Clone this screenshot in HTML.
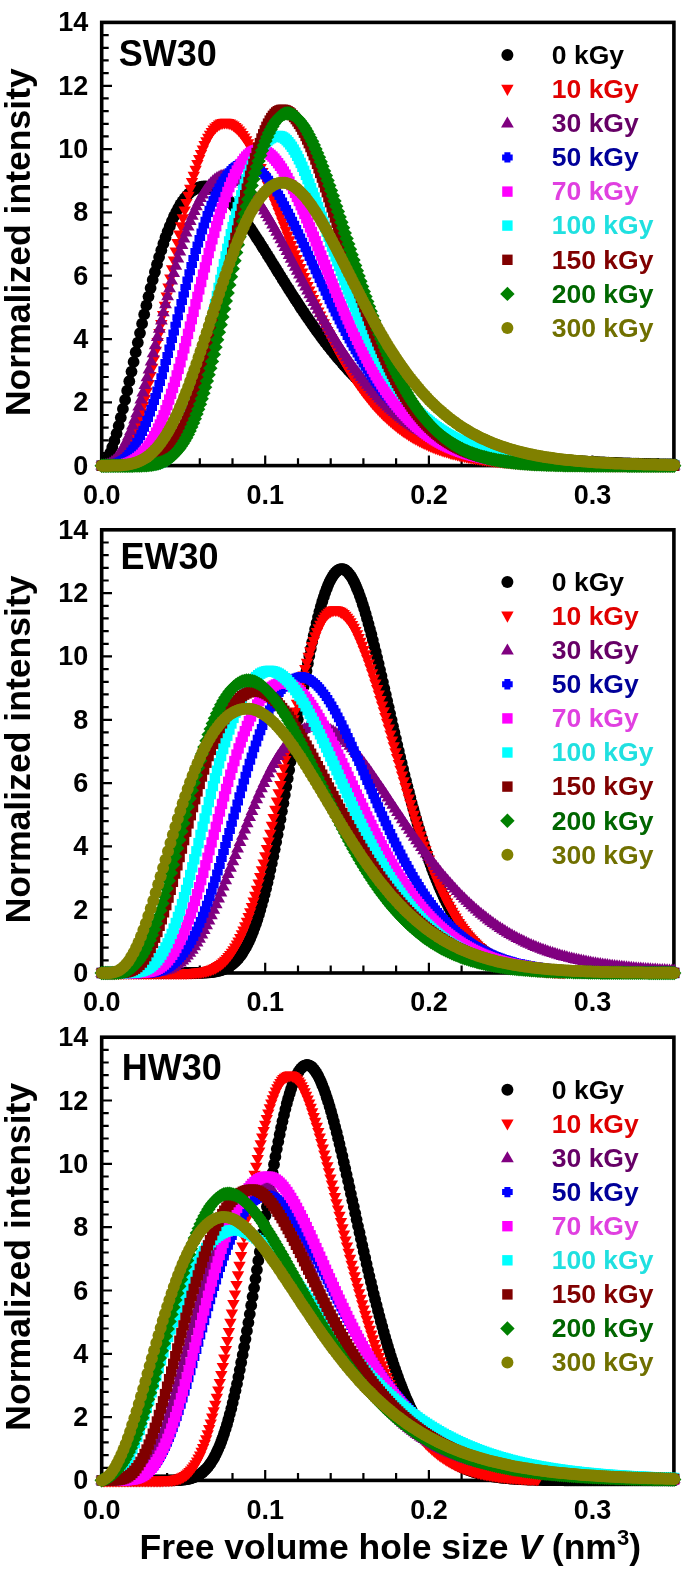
<!DOCTYPE html>
<html><head><meta charset="utf-8"><style>
html,body{margin:0;padding:0;background:#fff;}
svg{display:block;filter:blur(0.4px);}
text{font-family:"Liberation Sans",sans-serif;font-weight:bold;}
.tl{font-size:27px;fill:#000;}
.lg{font-size:26.5px;}
.big{font-size:35.5px;fill:#000;}
.pl{font-size:36px;fill:#000;}
.yl{font-size:35.6px;fill:#000;}
</style></head><body>
<svg width="685" height="1571" viewBox="0 0 685 1571">
<defs>
<marker id="mk" markerUnits="userSpaceOnUse" markerWidth="14" markerHeight="14" refX="7" refY="7" overflow="visible"><circle cx="7" cy="7" r="5.9" fill="#000"/></marker>
<marker id="mr" markerUnits="userSpaceOnUse" markerWidth="14" markerHeight="14" refX="7" refY="7" overflow="visible"><path d="M0.8 3.3H13.2L7 14z" fill="#f00"/></marker>
<marker id="mpu" markerUnits="userSpaceOnUse" markerWidth="14" markerHeight="14" refX="7" refY="7" overflow="visible"><path d="M0.6 10.9H13.4L7 0z" fill="#800080"/></marker>
<marker id="mb" markerUnits="userSpaceOnUse" markerWidth="14" markerHeight="14" refX="7" refY="7" overflow="visible"><path d="M4 1.8H10V4H12.3V10H10V12.2H4V10H1.7V4H4z" fill="#00f"/></marker>
<marker id="mm" markerUnits="userSpaceOnUse" markerWidth="14" markerHeight="14" refX="7" refY="7" overflow="visible"><rect x="1.8" y="1.8" width="10.4" height="10.4" fill="#f0f"/></marker>
<marker id="mc" markerUnits="userSpaceOnUse" markerWidth="14" markerHeight="14" refX="7" refY="7" overflow="visible"><rect x="1.8" y="1.8" width="10.4" height="10.4" fill="#0ff"/></marker>
<marker id="mdr" markerUnits="userSpaceOnUse" markerWidth="14" markerHeight="14" refX="7" refY="7" overflow="visible"><rect x="1.8" y="1.8" width="10.4" height="10.4" fill="#800000"/></marker>
<marker id="mg" markerUnits="userSpaceOnUse" markerWidth="14" markerHeight="14" refX="7" refY="7" overflow="visible"><path d="M7 -0.2L14.2 7L7 14.2L-0.2 7z" fill="#008000"/></marker>
<marker id="mo" markerUnits="userSpaceOnUse" markerWidth="14" markerHeight="14" refX="7" refY="7" overflow="visible"><circle cx="7" cy="7" r="6.0" fill="#808000"/></marker>
<g id="sk"><circle r="6" fill="#000"/></g>
<g id="sr"><path d="M-6.2 -4.5H6.2L0 6.7z" fill="#f00"/></g>
<g id="spu"><path d="M-6.4 4.2H6.4L0 -6.7z" fill="#800080"/></g>
<g id="sb"><path d="M-3 -5.2H3V-3H5.3V3H3V5.2H-3V3H-5.3V-3H-3z" fill="#00f"/></g>
<g id="sm"><rect x="-5.2" y="-5.2" width="10.4" height="10.4" fill="#f0f"/></g>
<g id="sc"><rect x="-5.2" y="-5.2" width="10.4" height="10.4" fill="#0ff"/></g>
<g id="sdr"><rect x="-5.2" y="-5.2" width="10.4" height="10.4" fill="#800000"/></g>
<g id="sg"><path d="M0 -7.2L7.2 0L0 7.2L-7.2 0z" fill="#008000"/></g>
<g id="so"><circle r="6" fill="#808000"/></g>
</defs>
<rect width="685" height="1571" fill="#fff"/>
<rect x="101.7" y="22.4" width="572.2" height="443.2" fill="none" stroke="#000" stroke-width="3.6"/>
<path d="M101.7 465.7h10.3M101.7 453.0h7.0M101.7 440.4h7.0M101.7 427.7h7.0M101.7 415.0h7.0M101.7 402.4h10.3M101.7 389.7h7.0M101.7 377.0h7.0M101.7 364.4h7.0M101.7 351.7h7.0M101.7 339.1h10.3M101.7 326.4h7.0M101.7 313.7h7.0M101.7 301.1h7.0M101.7 288.4h7.0M101.7 275.7h10.3M101.7 263.1h7.0M101.7 250.4h7.0M101.7 237.7h7.0M101.7 225.1h7.0M101.7 212.4h10.3M101.7 199.7h7.0M101.7 187.1h7.0M101.7 174.4h7.0M101.7 161.8h7.0M101.7 149.1h10.3M101.7 136.4h7.0M101.7 123.8h7.0M101.7 111.1h7.0M101.7 98.4h7.0M101.7 85.8h10.3M101.7 73.1h7.0M101.7 60.4h7.0M101.7 47.8h7.0M101.7 35.1h7.0M101.7 22.4h10.3M101.7 465.7v-10.3M134.4 465.7v-7.5M167.1 465.7v-7.5M199.8 465.7v-7.5M232.5 465.7v-7.5M265.2 465.7v-10.3M298.0 465.7v-7.5M330.7 465.7v-7.5M363.4 465.7v-7.5M396.1 465.7v-7.5M428.9 465.7v-10.3M461.6 465.7v-7.5M494.3 465.7v-7.5M527.0 465.7v-7.5M559.7 465.7v-7.5M592.4 465.7v-10.3M625.2 465.7v-7.5M657.9 465.7v-7.5" stroke="#000" stroke-width="2.2" fill="none"/>
<text class="tl" x="88.3" y="474.7" text-anchor="end">0</text>
<text class="tl" x="88.3" y="411.4" text-anchor="end">2</text>
<text class="tl" x="88.3" y="348.1" text-anchor="end">4</text>
<text class="tl" x="88.3" y="284.7" text-anchor="end">6</text>
<text class="tl" x="88.3" y="221.4" text-anchor="end">8</text>
<text class="tl" x="88.3" y="158.1" text-anchor="end">10</text>
<text class="tl" x="88.3" y="94.8" text-anchor="end">12</text>
<text class="tl" x="88.3" y="31.4" text-anchor="end">14</text>
<text class="tl" x="101.7" y="503.9" text-anchor="middle">0.0</text>
<text class="tl" x="265.2" y="503.9" text-anchor="middle">0.1</text>
<text class="tl" x="428.9" y="503.9" text-anchor="middle">0.2</text>
<text class="tl" x="592.5" y="503.9" text-anchor="middle">0.3</text>
<text class="pl" x="118.7" y="65.8">SW30</text>
<text class="yl" transform="translate(30.3 242.1) rotate(-90)" text-anchor="middle">Normalized intensity</text>
<polyline points="101.7,465.7 103.8,464.1 105.9,461.3 108.0,457.5 110.2,452.8 112.3,447.1 114.4,440.7 116.6,433.6 118.7,425.8 120.8,417.6 122.9,408.9 125.1,399.9 127.2,390.7 129.3,381.2 131.5,371.6 133.6,361.9 135.7,352.2 137.8,342.6 140.0,333.1 142.1,323.7 144.2,314.4 146.4,305.4 148.5,296.6 150.6,288.1 152.7,279.9 154.9,272.0 157.0,264.4 159.1,257.1 161.3,250.2 163.4,243.7 165.5,237.5 167.6,231.7 169.8,226.2 171.9,221.2 174.0,216.4 176.2,212.1 178.3,208.1 180.4,204.5 182.5,201.3 184.7,198.4 186.8,195.8 188.9,193.6 191.1,191.7 193.2,190.1 195.3,188.8 197.4,187.8 199.6,187.1 201.7,186.6 203.8,186.5 206.0,186.5 208.1,186.8 210.2,187.4 212.3,188.2 214.5,189.2 216.6,190.3 218.7,191.7 220.9,193.3 223.0,195.0 225.1,196.9 227.2,198.9 229.4,201.1 231.5,203.4 233.6,205.8 235.8,208.4 237.9,211.0 240.0,213.8 242.1,216.6 244.3,219.5 246.4,222.5 248.5,225.6 250.7,228.7 252.8,231.9 254.9,235.1 257.0,238.4 259.2,241.7 261.3,245.1 263.4,248.4 265.6,251.8 267.7,255.3 269.8,258.7 271.9,262.1 274.1,265.6 276.2,269.0 278.3,272.4 280.5,275.9 282.6,279.3 284.7,282.7 286.8,286.1 289.0,289.5 291.1,292.8 293.2,296.1 295.4,299.5 297.5,302.7 299.6,306.0 301.7,309.2 303.9,312.4 306.0,315.6 308.1,318.7 310.3,321.8 312.4,324.8 314.5,327.8 316.6,330.8 318.8,333.7 320.9,336.6 323.0,339.4 325.2,342.3 327.3,345.0 329.4,347.7 331.5,350.4 333.7,353.0 335.8,355.6 337.9,358.2 340.1,360.7 342.2,363.1 344.3,365.6 346.4,367.9 348.6,370.3 350.7,372.6 352.8,374.8 355.0,377.0 357.1,379.1 359.2,381.3 361.3,383.3 363.5,385.4 365.6,387.4 367.7,389.3 369.9,391.2 372.0,393.1 374.1,394.9 376.2,396.7 378.4,398.5 380.5,400.2 382.6,401.8 384.8,403.5 386.9,405.1 389.0,406.6 391.1,408.2 393.3,409.7 395.4,411.1 397.5,412.6 399.7,414.0 401.8,415.3 403.9,416.7 406.0,418.0 408.2,419.2 410.3,420.5 412.4,421.7 414.6,422.8 416.7,424.0 418.8,425.1 420.9,426.2 423.1,427.3 425.2,428.3 427.3,429.3 429.5,430.3 431.6,431.3 433.7,432.2 435.8,433.2 438.0,434.1 440.1,434.9 442.2,435.8 444.4,436.6 446.5,437.4 448.6,438.2 450.7,439.0 452.9,439.7 455.0,440.4 457.1,441.1 459.3,441.8 461.4,442.5 463.5,443.1 465.6,443.8 467.8,444.4 469.9,445.0 472.0,445.6 474.2,446.2 476.3,446.7 478.4,447.2 480.5,447.8 482.7,448.3 484.8,448.8 486.9,449.3 489.1,449.7 491.2,450.2 493.3,450.6 495.4,451.1 497.6,451.5 499.7,451.9 501.8,452.3 504.0,452.7 506.1,453.1 508.2,453.4 510.3,453.8 512.5,454.1 514.6,454.5 516.7,454.8 518.9,455.1 521.0,455.4 523.1,455.7 525.2,456.0 527.4,456.3 529.5,456.6 531.6,456.8 533.8,457.1 535.9,457.3 538.0,457.6 540.1,457.8 542.3,458.1 544.4,458.3 546.5,458.5 548.7,458.7 550.8,458.9 552.9,459.1 555.0,459.3 557.2,459.5 559.3,459.7 561.4,459.9 563.6,460.0 565.7,460.2 567.8,460.4 569.9,460.5 572.1,460.7 574.2,460.8 576.3,461.0 578.5,461.1 580.6,461.2 582.7,461.4 584.8,461.5 587.0,461.6 589.1,461.8 591.2,461.9 593.4,462.0 595.5,462.1 597.6,462.2 599.7,462.3 601.9,462.4 604.0,462.5 606.1,462.6 608.3,462.7 610.4,462.8 612.5,462.9 614.6,463.0 616.8,463.0 618.9,463.1 621.0,463.2 623.2,463.3 625.3,463.3 627.4,463.4 629.5,463.5 631.7,463.6 633.8,463.6 635.9,463.7 638.1,463.7 640.2,463.8 642.3,463.9 644.4,463.9 646.6,464.0 648.7,464.0 650.8,464.1 653.0,464.1 655.1,464.2 657.2,464.2 659.3,464.3 661.5,464.3 663.6,464.3 665.7,464.4 667.9,464.4 670.0,464.5 672.1,464.5 674.2,464.5" fill="none" stroke="none" marker-start="url(#mk)" marker-mid="url(#mk)" marker-end="url(#mk)"/>
<polyline points="101.7,465.7 103.5,465.7 105.3,465.6 107.1,465.5 108.9,465.3 110.7,464.9 112.5,464.4 114.3,463.7 116.1,462.7 117.9,461.5 119.7,460.0 121.5,458.1 123.3,456.0 125.1,453.4 126.9,450.5 128.7,447.1 130.6,443.3 132.4,439.2 134.2,434.6 136.0,429.6 137.8,424.1 139.6,418.3 141.4,412.1 143.2,405.5 145.0,398.5 146.8,391.2 148.6,383.6 150.4,375.7 152.2,367.5 154.0,359.1 155.8,350.5 157.6,341.7 159.5,332.8 161.3,323.8 163.1,314.7 164.9,305.5 166.7,296.3 168.5,287.2 170.3,278.1 172.1,269.0 173.9,260.1 175.7,251.3 177.5,242.7 179.3,234.2 181.1,225.9 182.9,217.9 184.7,210.1 186.5,202.6 188.4,195.4 190.2,188.4 192.0,181.8 193.8,175.5 195.6,169.5 197.4,163.8 199.2,158.6 201.0,153.6 202.8,149.1 204.6,144.8 206.4,141.0 208.2,137.5 210.0,134.4 211.8,131.7 213.6,129.3 215.4,127.3 217.3,125.6 219.1,124.3 220.9,123.3 222.7,122.7 224.5,122.4 226.3,122.4 228.1,122.7 229.9,123.3 231.7,124.1 233.5,125.3 235.3,126.7 237.1,128.3 238.9,130.2 240.7,132.3 242.5,134.7 244.3,137.2 246.2,140.0 248.0,142.9 249.8,146.0 251.6,149.3 253.4,152.7 255.2,156.3 257.0,160.0 258.8,163.8 260.6,167.8 262.4,171.8 264.2,176.0 266.0,180.2 267.8,184.6 269.6,189.0 271.4,193.4 273.2,198.0 275.1,202.5 276.9,207.1 278.7,211.8 280.5,216.4 282.3,221.1 284.1,225.8 285.9,230.5 287.7,235.3 289.5,240.0 291.3,244.6 293.1,249.3 294.9,254.0 296.7,258.6 298.5,263.2 300.3,267.8 302.2,272.3 304.0,276.8 305.8,281.3 307.6,285.7 309.4,290.1 311.2,294.4 313.0,298.7 314.8,302.9 316.6,307.0 318.4,311.1 320.2,315.1 322.0,319.1 323.8,323.0 325.6,326.8 327.4,330.6 329.2,334.3 331.1,337.9 332.9,341.5 334.7,345.0 336.5,348.4 338.3,351.8 340.1,355.1 341.9,358.3 343.7,361.4 345.5,364.5 347.3,367.5 349.1,370.5 350.9,373.4 352.7,376.2 354.5,378.9 356.3,381.6 358.1,384.2 360.0,386.8 361.8,389.2 363.6,391.7 365.4,394.0 367.2,396.3 369.0,398.6 370.8,400.7 372.6,402.9 374.4,404.9 376.2,406.9 378.0,408.9 379.8,410.8 381.6,412.6 383.4,414.4 385.2,416.1 387.0,417.8 388.9,419.4 390.7,421.0 392.5,422.6 394.3,424.1 396.1,425.5 397.9,426.9 399.7,428.3 401.5,429.6 403.3,430.9 405.1,432.1 406.9,433.3 408.7,434.4 410.5,435.6 412.3,436.7 414.1,437.7 415.9,438.7 417.8,439.7 419.6,440.7 421.4,441.6 423.2,442.5 425.0,443.3 426.8,444.1 428.6,445.0 430.4,445.7 432.2,446.5 434.0,447.2 435.8,447.9 437.6,448.6 439.4,449.2 441.2,449.8 443.0,450.4 444.8,451.0 446.7,451.6 448.5,452.1 450.3,452.7 452.1,453.2 453.9,453.6 455.7,454.1 457.5,454.6 459.3,455.0 461.1,455.4 462.9,455.8 464.7,456.2 466.5,456.6 468.3,456.9 470.1,457.3 471.9,457.6 473.7,457.9 475.6,458.2 477.4,458.5 479.2,458.8 481.0,459.1 482.8,459.4 484.6,459.6 486.4,459.9 488.2,460.1 490.0,460.3 491.8,460.6 493.6,460.8 495.4,461.0 497.2,461.2 499.0,461.3 500.8,461.5 502.7,461.7 504.5,461.9 506.3,462.0 508.1,462.2 509.9,462.3 511.7,462.5 513.5,462.6 515.3,462.7 517.1,462.8 518.9,463.0 520.7,463.1 522.5,463.2 524.3,463.3 526.1,463.4 527.9,463.5 529.7,463.6 531.6,463.7 533.4,463.8 535.2,463.8 537.0,463.9 538.8,464.0 540.6,464.1 542.4,464.1 544.2,464.2 546.0,464.3 547.8,464.3 549.6,464.4 551.4,464.4 553.2,464.5 555.0,464.5 556.8,464.6 558.6,464.6 560.5,464.7 562.3,464.7 564.1,464.8 565.9,464.8 567.7,464.8 569.5,464.9 571.3,464.9 573.1,465.0 574.9,465.0 576.7,465.0 578.5,465.0 580.3,465.1 582.1,465.1 583.9,465.1 585.7,465.2 587.5,465.2 589.4,465.2 591.2,465.2 593.0,465.2 594.8,465.3 596.6,465.3 598.4,465.3 600.2,465.3 602.0,465.3 603.8,465.3 605.6,465.4 607.4,465.4 609.2,465.4 611.0,465.4 612.8,465.4 614.6,465.4 616.4,465.4 618.3,465.5 620.1,465.5 621.9,465.5 623.7,465.5 625.5,465.5 627.3,465.5 629.1,465.5 630.9,465.5 632.7,465.5 634.5,465.5 636.3,465.5 638.1,465.5 639.9,465.6 641.7,465.6 643.5,465.6 645.3,465.6 647.2,465.6 649.0,465.6 650.8,465.6 652.6,465.6 654.4,465.6 656.2,465.6 658.0,465.6 659.8,465.6 661.6,465.6 663.4,465.6 665.2,465.6 667.0,465.6 668.8,465.6 670.6,465.6 672.4,465.6 674.2,465.6" fill="none" stroke="none" marker-start="url(#mr)" marker-mid="url(#mr)" marker-end="url(#mr)"/>
<polyline points="101.7,465.7 103.7,465.5 105.8,465.1 107.8,464.4 109.9,463.4 111.9,462.1 114.0,460.4 116.1,458.2 118.1,455.7 120.2,452.7 122.2,449.3 124.3,445.4 126.4,441.1 128.4,436.3 130.5,431.2 132.5,425.6 134.6,419.6 136.7,413.3 138.7,406.7 140.8,399.7 142.8,392.5 144.9,385.1 147.0,377.4 149.0,369.5 151.1,361.5 153.1,353.4 155.2,345.3 157.3,337.0 159.3,328.8 161.4,320.6 163.4,312.4 165.5,304.3 167.6,296.3 169.6,288.4 171.7,280.7 173.7,273.1 175.8,265.8 177.9,258.6 179.9,251.7 182.0,245.0 184.0,238.6 186.1,232.5 188.2,226.7 190.2,221.1 192.3,215.9 194.3,211.0 196.4,206.4 198.5,202.1 200.5,198.1 202.6,194.5 204.6,191.2 206.7,188.2 208.8,185.5 210.8,183.2 212.9,181.2 214.9,179.5 217.0,178.1 219.1,177.0 221.1,176.1 223.2,175.6 225.2,175.4 227.3,175.4 229.4,175.7 231.4,176.2 233.5,177.0 235.5,178.0 237.6,179.2 239.7,180.6 241.7,182.2 243.8,184.0 245.8,186.0 247.9,188.2 249.9,190.5 252.0,193.0 254.1,195.6 256.1,198.4 258.2,201.3 260.2,204.3 262.3,207.4 264.4,210.7 266.4,214.0 268.5,217.4 270.5,220.9 272.6,224.5 274.7,228.1 276.7,231.9 278.8,235.6 280.8,239.4 282.9,243.3 285.0,247.1 287.0,251.0 289.1,255.0 291.1,258.9 293.2,262.9 295.3,266.8 297.3,270.8 299.4,274.7 301.4,278.7 303.5,282.6 305.6,286.6 307.6,290.5 309.7,294.3 311.7,298.2 313.8,302.0 315.9,305.8 317.9,309.5 320.0,313.3 322.0,316.9 324.1,320.6 326.2,324.1 328.2,327.7 330.3,331.2 332.3,334.6 334.4,338.0 336.5,341.4 338.5,344.7 340.6,347.9 342.6,351.1 344.7,354.2 346.8,357.3 348.8,360.3 350.9,363.2 352.9,366.1 355.0,369.0 357.1,371.7 359.1,374.5 361.2,377.1 363.2,379.7 365.3,382.3 367.4,384.8 369.4,387.2 371.5,389.6 373.5,391.9 375.6,394.2 377.7,396.4 379.7,398.6 381.8,400.7 383.8,402.7 385.9,404.7 387.9,406.7 390.0,408.6 392.1,410.4 394.1,412.2 396.2,413.9 398.2,415.6 400.3,417.3 402.4,418.9 404.4,420.5 406.5,422.0 408.5,423.5 410.6,424.9 412.7,426.3 414.7,427.6 416.8,428.9 418.8,430.2 420.9,431.4 423.0,432.6 425.0,433.8 427.1,434.9 429.1,436.0 431.2,437.1 433.3,438.1 435.3,439.1 437.4,440.0 439.4,440.9 441.5,441.8 443.6,442.7 445.6,443.5 447.7,444.4 449.7,445.1 451.8,445.9 453.9,446.6 455.9,447.3 458.0,448.0 460.0,448.7 462.1,449.3 464.2,449.9 466.2,450.5 468.3,451.1 470.3,451.7 472.4,452.2 474.5,452.7 476.5,453.2 478.6,453.7 480.6,454.1 482.7,454.6 484.8,455.0 486.8,455.4 488.9,455.8 490.9,456.2 493.0,456.6 495.1,457.0 497.1,457.3 499.2,457.6 501.2,457.9 503.3,458.3 505.4,458.6 507.4,458.8 509.5,459.1 511.5,459.4 513.6,459.6 515.7,459.9 517.7,460.1 519.8,460.3 521.8,460.6 523.9,460.8 526.0,461.0 528.0,461.2 530.1,461.3 532.1,461.5 534.2,461.7 536.2,461.9 538.3,462.0 540.4,462.2 542.4,462.3 544.5,462.5 546.5,462.6 548.6,462.7 550.7,462.8 552.7,463.0 554.8,463.1 556.8,463.2 558.9,463.3 561.0,463.4 563.0,463.5 565.1,463.6 567.1,463.7 569.2,463.8 571.3,463.8 573.3,463.9 575.4,464.0 577.4,464.1 579.5,464.1 581.6,464.2 583.6,464.3 585.7,464.3 587.7,464.4 589.8,464.4 591.9,464.5 593.9,464.5 596.0,464.6 598.0,464.6 600.1,464.7 602.2,464.7 604.2,464.8 606.3,464.8 608.3,464.9 610.4,464.9 612.5,464.9 614.5,465.0 616.6,465.0 618.6,465.0 620.7,465.1 622.8,465.1 624.8,465.1 626.9,465.1 628.9,465.2 631.0,465.2 633.1,465.2 635.1,465.2 637.2,465.2 639.2,465.3 641.3,465.3 643.4,465.3 645.4,465.3 647.5,465.3 649.5,465.4 651.6,465.4 653.7,465.4 655.7,465.4 657.8,465.4 659.8,465.4 661.9,465.4 664.0,465.4 666.0,465.5 668.1,465.5 670.1,465.5 672.2,465.5 674.2,465.5" fill="none" stroke="none" marker-start="url(#mpu)" marker-mid="url(#mpu)" marker-end="url(#mpu)"/>
<polyline points="101.7,465.7 103.7,465.6 105.7,465.6 107.7,465.4 109.7,465.1 111.7,464.8 113.7,464.3 115.7,463.6 117.7,462.8 119.7,461.8 121.7,460.6 123.7,459.1 125.7,457.4 127.7,455.4 129.7,453.1 131.7,450.5 133.7,447.7 135.7,444.5 137.7,441.0 139.7,437.2 141.7,433.1 143.7,428.7 145.7,423.9 147.7,418.9 149.7,413.6 151.7,408.0 153.7,402.1 155.7,396.0 157.7,389.6 159.7,383.0 161.7,376.2 163.7,369.3 165.7,362.1 167.7,354.9 169.7,347.5 171.7,340.0 173.7,332.4 175.7,324.8 177.7,317.2 179.7,309.6 181.7,302.0 183.7,294.4 185.7,286.9 187.7,279.5 189.7,272.2 191.7,265.0 193.7,258.0 195.7,251.1 197.8,244.4 199.8,237.9 201.8,231.6 203.8,225.5 205.8,219.7 207.8,214.1 209.8,208.8 211.8,203.8 213.8,199.0 215.8,194.5 217.8,190.3 219.8,186.4 221.8,182.8 223.8,179.5 225.8,176.5 227.8,173.8 229.8,171.4 231.8,169.3 233.8,167.6 235.8,166.1 237.8,164.9 239.8,164.0 241.8,163.4 243.8,163.1 245.8,163.0 247.8,163.3 249.8,163.7 251.8,164.5 253.8,165.5 255.8,166.7 257.8,168.2 259.8,169.9 261.8,171.8 263.8,173.9 265.8,176.2 267.8,178.7 269.8,181.3 271.8,184.2 273.8,187.2 275.8,190.3 277.8,193.6 279.8,197.0 281.8,200.5 283.8,204.2 285.8,207.9 287.8,211.8 289.8,215.7 291.8,219.7 293.9,223.8 295.9,228.0 297.9,232.2 299.9,236.4 301.9,240.7 303.9,245.0 305.9,249.3 307.9,253.7 309.9,258.1 311.9,262.4 313.9,266.8 315.9,271.2 317.9,275.5 319.9,279.9 321.9,284.2 323.9,288.5 325.9,292.8 327.9,297.0 329.9,301.2 331.9,305.4 333.9,309.5 335.9,313.6 337.9,317.6 339.9,321.6 341.9,325.5 343.9,329.3 345.9,333.1 347.9,336.9 349.9,340.6 351.9,344.2 353.9,347.7 355.9,351.2 357.9,354.6 359.9,358.0 361.9,361.3 363.9,364.5 365.9,367.7 367.9,370.7 369.9,373.8 371.9,376.7 373.9,379.6 375.9,382.4 377.9,385.1 379.9,387.8 381.9,390.4 383.9,392.9 385.9,395.4 387.9,397.8 390.0,400.2 392.0,402.4 394.0,404.7 396.0,406.8 398.0,408.9 400.0,410.9 402.0,412.9 404.0,414.8 406.0,416.7 408.0,418.5 410.0,420.2 412.0,421.9 414.0,423.5 416.0,425.1 418.0,426.7 420.0,428.1 422.0,429.6 424.0,431.0 426.0,432.3 428.0,433.6 430.0,434.9 432.0,436.1 434.0,437.2 436.0,438.4 438.0,439.5 440.0,440.5 442.0,441.5 444.0,442.5 446.0,443.5 448.0,444.4 450.0,445.2 452.0,446.1 454.0,446.9 456.0,447.7 458.0,448.4 460.0,449.2 462.0,449.8 464.0,450.5 466.0,451.2 468.0,451.8 470.0,452.4 472.0,452.9 474.0,453.5 476.0,454.0 478.0,454.5 480.0,455.0 482.0,455.5 484.1,455.9 486.1,456.4 488.1,456.8 490.1,457.2 492.1,457.5 494.1,457.9 496.1,458.3 498.1,458.6 500.1,458.9 502.1,459.2 504.1,459.5 506.1,459.8 508.1,460.1 510.1,460.3 512.1,460.6 514.1,460.8 516.1,461.0 518.1,461.2 520.1,461.5 522.1,461.6 524.1,461.8 526.1,462.0 528.1,462.2 530.1,462.4 532.1,462.5 534.1,462.7 536.1,462.8 538.1,462.9 540.1,463.1 542.1,463.2 544.1,463.3 546.1,463.4 548.1,463.5 550.1,463.6 552.1,463.7 554.1,463.8 556.1,463.9 558.1,464.0 560.1,464.1 562.1,464.2 564.1,464.2 566.1,464.3 568.1,464.4 570.1,464.5 572.1,464.5 574.1,464.6 576.1,464.6 578.1,464.7 580.2,464.7 582.2,464.8 584.2,464.8 586.2,464.9 588.2,464.9 590.2,464.9 592.2,465.0 594.2,465.0 596.2,465.1 598.2,465.1 600.2,465.1 602.2,465.1 604.2,465.2 606.2,465.2 608.2,465.2 610.2,465.2 612.2,465.3 614.2,465.3 616.2,465.3 618.2,465.3 620.2,465.4 622.2,465.4 624.2,465.4 626.2,465.4 628.2,465.4 630.2,465.4 632.2,465.4 634.2,465.5 636.2,465.5 638.2,465.5 640.2,465.5 642.2,465.5 644.2,465.5 646.2,465.5 648.2,465.5 650.2,465.5 652.2,465.5 654.2,465.6 656.2,465.6 658.2,465.6 660.2,465.6 662.2,465.6 664.2,465.6 666.2,465.6 668.2,465.6 670.2,465.6 672.2,465.6 674.2,465.6" fill="none" stroke="none" marker-start="url(#mb)" marker-mid="url(#mb)" marker-end="url(#mb)"/>
<polyline points="101.7,465.7 103.5,465.7 105.4,465.7 107.3,465.7 109.2,465.6 111.0,465.6 112.9,465.5 114.8,465.4 116.7,465.3 118.5,465.1 120.4,464.9 122.3,464.6 124.2,464.2 126.1,463.7 127.9,463.1 129.8,462.4 131.7,461.5 133.6,460.5 135.4,459.4 137.3,458.0 139.2,456.5 141.1,454.8 143.0,452.8 144.8,450.7 146.7,448.3 148.6,445.7 150.5,442.8 152.3,439.6 154.2,436.2 156.1,432.6 158.0,428.6 159.8,424.5 161.7,420.0 163.6,415.3 165.5,410.3 167.4,405.1 169.2,399.6 171.1,393.9 173.0,387.9 174.9,381.8 176.7,375.4 178.6,368.9 180.5,362.2 182.4,355.3 184.3,348.3 186.1,341.2 188.0,333.9 189.9,326.6 191.8,319.2 193.6,311.8 195.5,304.3 197.4,296.9 199.3,289.4 201.2,282.0 203.0,274.6 204.9,267.4 206.8,260.2 208.7,253.1 210.5,246.1 212.4,239.3 214.3,232.7 216.2,226.2 218.0,219.9 219.9,213.9 221.8,208.0 223.7,202.4 225.6,197.1 227.4,192.0 229.3,187.1 231.2,182.6 233.1,178.3 234.9,174.3 236.8,170.6 238.7,167.2 240.6,164.1 242.5,161.3 244.3,158.8 246.2,156.6 248.1,154.7 250.0,153.1 251.8,151.9 253.7,150.9 255.6,150.2 257.5,149.8 259.3,149.7 261.2,149.9 263.1,150.4 265.0,151.1 266.9,152.1 268.7,153.4 270.6,154.9 272.5,156.6 274.4,158.6 276.2,160.8 278.1,163.2 280.0,165.8 281.9,168.6 283.8,171.6 285.6,174.7 287.5,178.1 289.4,181.6 291.3,185.2 293.1,189.0 295.0,192.8 296.9,196.9 298.8,201.0 300.7,205.2 302.5,209.5 304.4,213.9 306.3,218.3 308.2,222.8 310.0,227.4 311.9,232.0 313.8,236.7 315.7,241.3 317.5,246.0 319.4,250.8 321.3,255.5 323.2,260.2 325.1,264.9 326.9,269.6 328.8,274.3 330.7,279.0 332.6,283.7 334.4,288.3 336.3,292.8 338.2,297.4 340.1,301.9 342.0,306.3 343.8,310.7 345.7,315.1 347.6,319.3 349.5,323.5 351.3,327.7 353.2,331.8 355.1,335.8 357.0,339.8 358.9,343.6 360.7,347.4 362.6,351.2 364.5,354.8 366.4,358.4 368.2,361.9 370.1,365.3 372.0,368.7 373.9,372.0 375.7,375.2 377.6,378.3 379.5,381.3 381.4,384.3 383.3,387.1 385.1,390.0 387.0,392.7 388.9,395.3 390.8,397.9 392.6,400.4 394.5,402.9 396.4,405.2 398.3,407.5 400.2,409.7 402.0,411.9 403.9,414.0 405.8,416.0 407.7,418.0 409.5,419.8 411.4,421.7 413.3,423.4 415.2,425.2 417.0,426.8 418.9,428.4 420.8,429.9 422.7,431.4 424.6,432.9 426.4,434.2 428.3,435.6 430.2,436.9 432.1,438.1 433.9,439.3 435.8,440.4 437.7,441.5 439.6,442.6 441.5,443.6 443.3,444.6 445.2,445.5 447.1,446.4 449.0,447.3 450.8,448.1 452.7,448.9 454.6,449.7 456.5,450.4 458.4,451.1 460.2,451.8 462.1,452.4 464.0,453.0 465.9,453.6 467.7,454.2 469.6,454.7 471.5,455.3 473.4,455.8 475.2,456.2 477.1,456.7 479.0,457.1 480.9,457.5 482.8,457.9 484.6,458.3 486.5,458.7 488.4,459.0 490.3,459.4 492.1,459.7 494.0,460.0 495.9,460.3 497.8,460.5 499.7,460.8 501.5,461.0 503.4,461.3 505.3,461.5 507.2,461.7 509.0,461.9 510.9,462.1 512.8,462.3 514.7,462.5 516.6,462.6 518.4,462.8 520.3,462.9 522.2,463.1 524.1,463.2 525.9,463.4 527.8,463.5 529.7,463.6 531.6,463.7 533.4,463.8 535.3,463.9 537.2,464.0 539.1,464.1 541.0,464.2 542.8,464.3 544.7,464.3 546.6,464.4 548.5,464.5 550.3,464.6 552.2,464.6 554.1,464.7 556.0,464.7 557.9,464.8 559.7,464.8 561.6,464.9 563.5,464.9 565.4,465.0 567.2,465.0 569.1,465.0 571.0,465.1 572.9,465.1 574.7,465.1 576.6,465.2 578.5,465.2 580.4,465.2 582.3,465.3 584.1,465.3 586.0,465.3 587.9,465.3 589.8,465.4 591.6,465.4 593.5,465.4 595.4,465.4 597.3,465.4 599.2,465.4 601.0,465.5 602.9,465.5 604.8,465.5 606.7,465.5 608.5,465.5 610.4,465.5 612.3,465.5 614.2,465.5 616.1,465.5 617.9,465.6 619.8,465.6 621.7,465.6 623.6,465.6 625.4,465.6 627.3,465.6 629.2,465.6 631.1,465.6 632.9,465.6 634.8,465.6 636.7,465.6 638.6,465.6 640.5,465.6 642.3,465.6 644.2,465.6 646.1,465.6 648.0,465.6 649.8,465.6 651.7,465.6 653.6,465.6 655.5,465.7 657.4,465.7 659.2,465.7 661.1,465.7 663.0,465.7 664.9,465.7 666.7,465.7 668.6,465.7 670.5,465.7 672.4,465.7 674.2,465.7" fill="none" stroke="none" marker-start="url(#mm)" marker-mid="url(#mm)" marker-end="url(#mm)"/>
<polyline points="101.7,465.7 103.4,465.7 105.1,465.7 106.9,465.7 108.6,465.7 110.4,465.7 112.1,465.7 113.9,465.7 115.6,465.7 117.4,465.7 119.1,465.7 120.9,465.7 122.6,465.7 124.3,465.7 126.1,465.7 127.8,465.7 129.6,465.7 131.3,465.7 133.1,465.7 134.8,465.7 136.6,465.7 138.3,465.7 140.1,465.7 141.8,465.6 143.5,465.6 145.3,465.5 147.0,465.4 148.8,465.3 150.5,465.1 152.3,464.9 154.0,464.6 155.8,464.1 157.5,463.6 159.3,462.9 161.0,462.1 162.8,461.1 164.5,459.9 166.2,458.5 168.0,456.9 169.7,455.0 171.5,452.8 173.2,450.3 175.0,447.6 176.7,444.5 178.5,441.1 180.2,437.3 182.0,433.2 183.7,428.8 185.4,424.0 187.2,418.9 188.9,413.5 190.7,407.7 192.4,401.7 194.2,395.3 195.9,388.7 197.7,381.8 199.4,374.7 201.2,367.4 202.9,359.9 204.6,352.2 206.4,344.4 208.1,336.5 209.9,328.5 211.6,320.4 213.4,312.3 215.1,304.2 216.9,296.0 218.6,287.9 220.4,279.9 222.1,272.0 223.9,264.1 225.6,256.4 227.3,248.8 229.1,241.4 230.8,234.2 232.6,227.1 234.3,220.3 236.1,213.7 237.8,207.3 239.6,201.2 241.3,195.3 243.1,189.7 244.8,184.3 246.5,179.3 248.3,174.5 250.0,170.0 251.8,165.7 253.5,161.8 255.3,158.2 257.0,154.8 258.8,151.7 260.5,149.0 262.3,146.4 264.0,144.2 265.7,142.3 267.5,140.6 269.2,139.2 271.0,138.1 272.7,137.2 274.5,136.5 276.2,136.1 278.0,136.0 279.7,136.1 281.5,136.6 283.2,137.5 285.0,138.7 286.7,140.3 288.4,142.2 290.2,144.4 291.9,146.8 293.7,149.6 295.4,152.6 297.2,155.8 298.9,159.3 300.7,162.9 302.4,166.8 304.2,170.8 305.9,174.9 307.6,179.2 309.4,183.7 311.1,188.2 312.9,192.8 314.6,197.5 316.4,202.3 318.1,207.1 319.9,212.0 321.6,216.9 323.4,221.8 325.1,226.8 326.8,231.7 328.6,236.7 330.3,241.7 332.1,246.6 333.8,251.5 335.6,256.4 337.3,261.2 339.1,266.0 340.8,270.8 342.6,275.5 344.3,280.2 346.1,284.8 347.8,289.3 349.5,293.8 351.3,298.2 353.0,302.5 354.8,306.8 356.5,311.0 358.3,315.1 360.0,319.2 361.8,323.2 363.5,327.0 365.3,330.9 367.0,334.6 368.7,338.3 370.5,341.8 372.2,345.3 374.0,348.8 375.7,352.1 377.5,355.4 379.2,358.6 381.0,361.7 382.7,364.7 384.5,367.7 386.2,370.5 387.9,373.4 389.7,376.1 391.4,378.8 393.2,381.4 394.9,383.9 396.7,386.4 398.4,388.8 400.2,391.1 401.9,393.3 403.7,395.6 405.4,397.7 407.2,399.8 408.9,401.8 410.6,403.8 412.4,405.7 414.1,407.5 415.9,409.3 417.6,411.1 419.4,412.8 421.1,414.4 422.9,416.0 424.6,417.6 426.4,419.1 428.1,420.5 429.8,421.9 431.6,423.3 433.3,424.6 435.1,425.9 436.8,427.2 438.6,428.4 440.3,429.6 442.1,430.7 443.8,431.8 445.6,432.9 447.3,433.9 449.1,434.9 450.8,435.9 452.5,436.8 454.3,437.7 456.0,438.6 457.8,439.5 459.5,440.3 461.3,441.1 463.0,441.9 464.8,442.6 466.5,443.4 468.3,444.1 470.0,444.7 471.7,445.4 473.5,446.0 475.2,446.7 477.0,447.3 478.7,447.8 480.5,448.4 482.2,449.0 484.0,449.5 485.7,450.0 487.5,450.5 489.2,451.0 490.9,451.4 492.7,451.9 494.4,452.3 496.2,452.7 497.9,453.1 499.7,453.5 501.4,453.9 503.2,454.3 504.9,454.6 506.7,455.0 508.4,455.3 510.2,455.6 511.9,455.9 513.6,456.2 515.4,456.5 517.1,456.8 518.9,457.1 520.6,457.4 522.4,457.6 524.1,457.9 525.9,458.1 527.6,458.3 529.4,458.6 531.1,458.8 532.8,459.0 534.6,459.2 536.3,459.4 538.1,459.6 539.8,459.8 541.6,460.0 543.3,460.1 545.1,460.3 546.8,460.5 548.6,460.6 550.3,460.8 552.0,460.9 553.8,461.1 555.5,461.2 557.3,461.4 559.0,461.5 560.8,461.6 562.5,461.7 564.3,461.9 566.0,462.0 567.8,462.1 569.5,462.2 571.3,462.3 573.0,462.4 574.7,462.5 576.5,462.6 578.2,462.7 580.0,462.8 581.7,462.9 583.5,462.9 585.2,463.0 587.0,463.1 588.7,463.2 590.5,463.3 592.2,463.3 593.9,463.4 595.7,463.5 597.4,463.5 599.2,463.6 600.9,463.6 602.7,463.7 604.4,463.8 606.2,463.8 607.9,463.9 609.7,463.9 611.4,464.0 613.1,464.0 614.9,464.1 616.6,464.1 618.4,464.2 620.1,464.2 621.9,464.3 623.6,464.3 625.4,464.3 627.1,464.4 628.9,464.4 630.6,464.4 632.4,464.5 634.1,464.5 635.8,464.5 637.6,464.6 639.3,464.6 641.1,464.6 642.8,464.7 644.6,464.7 646.3,464.7 648.1,464.8 649.8,464.8 651.6,464.8 653.3,464.8 655.0,464.9 656.8,464.9 658.5,464.9 660.3,464.9 662.0,464.9 663.8,465.0 665.5,465.0 667.3,465.0 669.0,465.0 670.8,465.0 672.5,465.1 674.2,465.1" fill="none" stroke="none" marker-start="url(#mc)" marker-mid="url(#mc)" marker-end="url(#mc)"/>
<polyline points="101.7,465.7 103.3,465.7 104.9,465.7 106.5,465.7 108.2,465.7 109.8,465.7 111.4,465.7 113.1,465.6 114.7,465.6 116.3,465.6 118.0,465.6 119.6,465.5 121.2,465.5 122.9,465.5 124.5,465.4 126.1,465.3 127.8,465.2 129.4,465.1 131.0,465.0 132.6,464.9 134.3,464.7 135.9,464.6 137.5,464.4 139.2,464.1 140.8,463.9 142.4,463.5 144.1,463.2 145.7,462.8 147.3,462.3 149.0,461.8 150.6,461.3 152.2,460.6 153.9,459.9 155.5,459.1 157.1,458.3 158.7,457.3 160.4,456.3 162.0,455.1 163.6,453.8 165.3,452.5 166.9,451.0 168.5,449.3 170.2,447.6 171.8,445.7 173.4,443.6 175.1,441.4 176.7,439.0 178.3,436.5 180.0,433.8 181.6,430.9 183.2,427.8 184.8,424.5 186.5,421.1 188.1,417.4 189.7,413.6 191.4,409.5 193.0,405.3 194.6,400.8 196.3,396.2 197.9,391.3 199.5,386.2 201.2,381.0 202.8,375.5 204.4,369.9 206.1,364.1 207.7,358.0 209.3,351.9 210.9,345.5 212.6,339.0 214.2,332.3 215.8,325.5 217.5,318.6 219.1,311.6 220.7,304.4 222.4,297.2 224.0,289.9 225.6,282.5 227.3,275.1 228.9,267.6 230.5,260.2 232.2,252.7 233.8,245.3 235.4,237.9 237.1,230.5 238.7,223.3 240.3,216.1 241.9,209.0 243.6,202.0 245.2,195.2 246.8,188.6 248.5,182.1 250.1,175.8 251.7,169.8 253.4,163.9 255.0,158.3 256.6,153.0 258.3,147.9 259.9,143.1 261.5,138.5 263.2,134.3 264.8,130.4 266.4,126.8 268.0,123.6 269.7,120.6 271.3,118.1 272.9,115.8 274.6,113.9 276.2,112.4 277.8,111.2 279.5,110.4 281.1,109.9 282.7,109.8 284.4,110.0 286.0,110.5 287.6,111.3 289.3,112.3 290.9,113.6 292.5,115.2 294.1,117.0 295.8,119.1 297.4,121.4 299.0,123.9 300.7,126.6 302.3,129.6 303.9,132.7 305.6,136.0 307.2,139.5 308.8,143.2 310.5,147.1 312.1,151.1 313.7,155.2 315.4,159.5 317.0,163.8 318.6,168.3 320.2,172.9 321.9,177.6 323.5,182.4 325.1,187.3 326.8,192.2 328.4,197.2 330.0,202.2 331.7,207.3 333.3,212.4 334.9,217.5 336.6,222.7 338.2,227.8 339.8,233.0 341.5,238.1 343.1,243.3 344.7,248.4 346.4,253.6 348.0,258.7 349.6,263.7 351.2,268.8 352.9,273.7 354.5,278.7 356.1,283.6 357.8,288.4 359.4,293.2 361.0,297.9 362.7,302.6 364.3,307.2 365.9,311.7 367.6,316.2 369.2,320.6 370.8,324.9 372.5,329.1 374.1,333.3 375.7,337.4 377.3,341.4 379.0,345.3 380.6,349.1 382.2,352.9 383.9,356.6 385.5,360.1 387.1,363.6 388.8,367.1 390.4,370.4 392.0,373.7 393.7,376.8 395.3,379.9 396.9,383.0 398.6,385.9 400.2,388.7 401.8,391.5 403.4,394.2 405.1,396.8 406.7,399.4 408.3,401.8 410.0,404.2 411.6,406.6 413.2,408.8 414.9,411.0 416.5,413.1 418.1,415.1 419.8,417.1 421.4,419.0 423.0,420.9 424.7,422.7 426.3,424.4 427.9,426.1 429.5,427.7 431.2,429.2 432.8,430.7 434.4,432.2 436.1,433.6 437.7,434.9 439.3,436.2 441.0,437.5 442.6,438.7 444.2,439.8 445.9,440.9 447.5,442.0 449.1,443.0 450.8,444.0 452.4,445.0 454.0,445.9 455.7,446.8 457.3,447.6 458.9,448.4 460.5,449.2 462.2,449.9 463.8,450.7 465.4,451.3 467.1,452.0 468.7,452.6 470.3,453.2 472.0,453.8 473.6,454.4 475.2,454.9 476.9,455.4 478.5,455.9 480.1,456.3 481.8,456.8 483.4,457.2 485.0,457.6 486.6,458.0 488.3,458.4 489.9,458.7 491.5,459.1 493.2,459.4 494.8,459.7 496.4,460.0 498.1,460.3 499.7,460.5 501.3,460.8 503.0,461.0 504.6,461.3 506.2,461.5 507.9,461.7 509.5,461.9 511.1,462.1 512.7,462.3 514.4,462.4 516.0,462.6 517.6,462.8 519.3,462.9 520.9,463.1 522.5,463.2 524.2,463.3 525.8,463.5 527.4,463.6 529.1,463.7 530.7,463.8 532.3,463.9 534.0,464.0 535.6,464.1 537.2,464.2 538.8,464.2 540.5,464.3 542.1,464.4 543.7,464.5 545.4,464.5 547.0,464.6 548.6,464.6 550.3,464.7 551.9,464.8 553.5,464.8 555.2,464.9 556.8,464.9 558.4,464.9 560.1,465.0 561.7,465.0 563.3,465.1 565.0,465.1 566.6,465.1 568.2,465.2 569.8,465.2 571.5,465.2 573.1,465.2 574.7,465.3 576.4,465.3 578.0,465.3 579.6,465.3 581.3,465.4 582.9,465.4 584.5,465.4 586.2,465.4 587.8,465.4 589.4,465.4 591.1,465.5 592.7,465.5 594.3,465.5 595.9,465.5 597.6,465.5 599.2,465.5 600.8,465.5 602.5,465.5 604.1,465.5 605.7,465.5 607.4,465.6 609.0,465.6 610.6,465.6 612.3,465.6 613.9,465.6 615.5,465.6 617.2,465.6 618.8,465.6 620.4,465.6 622.0,465.6 623.7,465.6 625.3,465.6 626.9,465.6 628.6,465.6 630.2,465.6 631.8,465.6 633.5,465.6 635.1,465.6 636.7,465.6 638.4,465.6 640.0,465.7 641.6,465.7 643.3,465.7 644.9,465.7 646.5,465.7 648.1,465.7 649.8,465.7 651.4,465.7 653.0,465.7 654.7,465.7 656.3,465.7 657.9,465.7 659.6,465.7 661.2,465.7 662.8,465.7 664.5,465.7 666.1,465.7 667.7,465.7 669.4,465.7 671.0,465.7 672.6,465.7 674.2,465.7" fill="none" stroke="none" marker-start="url(#mdr)" marker-mid="url(#mdr)" marker-end="url(#mdr)"/>
<polyline points="101.7,465.7 103.4,465.7 105.1,465.7 106.8,465.7 108.5,465.7 110.3,465.7 112.0,465.7 113.7,465.7 115.4,465.7 117.2,465.7 118.9,465.7 120.6,465.7 122.3,465.7 124.1,465.7 125.8,465.7 127.5,465.7 129.2,465.7 131.0,465.7 132.7,465.7 134.4,465.6 136.1,465.6 137.9,465.6 139.6,465.5 141.3,465.5 143.0,465.4 144.8,465.3 146.5,465.2 148.2,465.1 149.9,464.9 151.7,464.7 153.4,464.4 155.1,464.1 156.8,463.7 158.6,463.3 160.3,462.7 162.0,462.1 163.7,461.4 165.5,460.5 167.2,459.6 168.9,458.5 170.6,457.2 172.4,455.9 174.1,454.3 175.8,452.5 177.5,450.6 179.3,448.5 181.0,446.1 182.7,443.6 184.4,440.8 186.2,437.7 187.9,434.4 189.6,430.9 191.3,427.1 193.1,423.0 194.8,418.7 196.5,414.1 198.2,409.3 200.0,404.2 201.7,398.8 203.4,393.2 205.1,387.3 206.9,381.1 208.6,374.8 210.3,368.2 212.0,361.4 213.8,354.4 215.5,347.2 217.2,339.8 218.9,332.3 220.7,324.7 222.4,316.9 224.1,309.0 225.8,301.0 227.6,293.0 229.3,284.9 231.0,276.8 232.7,268.7 234.5,260.7 236.2,252.6 237.9,244.7 239.6,236.8 241.4,229.0 243.1,221.3 244.8,213.8 246.5,206.5 248.2,199.3 250.0,192.3 251.7,185.6 253.4,179.1 255.1,172.8 256.9,166.8 258.6,161.1 260.3,155.6 262.0,150.5 263.8,145.6 265.5,141.1 267.2,136.9 268.9,133.1 270.7,129.6 272.4,126.4 274.1,123.5 275.8,121.1 277.6,118.9 279.3,117.1 281.0,115.7 282.7,114.6 284.5,113.8 286.2,113.4 287.9,113.3 289.6,113.5 291.4,114.1 293.1,114.9 294.8,116.0 296.5,117.4 298.3,119.1 300.0,121.0 301.7,123.2 303.4,125.6 305.2,128.3 306.9,131.2 308.6,134.4 310.3,137.7 312.1,141.3 313.8,145.0 315.5,148.9 317.2,153.0 319.0,157.3 320.7,161.7 322.4,166.2 324.1,170.9 325.9,175.6 327.6,180.5 329.3,185.5 331.0,190.6 332.8,195.7 334.5,200.9 336.2,206.2 337.9,211.5 339.7,216.9 341.4,222.3 343.1,227.7 344.8,233.1 346.6,238.5 348.3,243.9 350.0,249.3 351.7,254.7 353.5,260.1 355.2,265.5 356.9,270.8 358.6,276.0 360.4,281.3 362.1,286.4 363.8,291.5 365.5,296.6 367.3,301.6 369.0,306.5 370.7,311.3 372.4,316.1 374.2,320.8 375.9,325.4 377.6,330.0 379.3,334.4 381.1,338.7 382.8,343.0 384.5,347.2 386.2,351.3 387.9,355.3 389.7,359.2 391.4,363.0 393.1,366.7 394.8,370.3 396.6,373.8 398.3,377.3 400.0,380.6 401.7,383.8 403.5,387.0 405.2,390.1 406.9,393.0 408.6,395.9 410.4,398.7 412.1,401.4 413.8,404.0 415.5,406.6 417.3,409.0 419.0,411.4 420.7,413.7 422.4,415.9 424.2,418.1 425.9,420.1 427.6,422.1 429.3,424.0 431.1,425.9 432.8,427.6 434.5,429.3 436.2,431.0 438.0,432.6 439.7,434.1 441.4,435.6 443.1,437.0 444.9,438.3 446.6,439.6 448.3,440.8 450.0,442.0 451.8,443.2 453.5,444.3 455.2,445.3 456.9,446.3 458.7,447.2 460.4,448.2 462.1,449.0 463.8,449.9 465.6,450.7 467.3,451.4 469.0,452.2 470.7,452.9 472.5,453.5 474.2,454.1 475.9,454.7 477.6,455.3 479.4,455.9 481.1,456.4 482.8,456.9 484.5,457.3 486.3,457.8 488.0,458.2 489.7,458.6 491.4,459.0 493.2,459.4 494.9,459.7 496.6,460.1 498.3,460.4 500.1,460.7 501.8,460.9 503.5,461.2 505.2,461.5 507.0,461.7 508.7,461.9 510.4,462.1 512.1,462.3 513.9,462.5 515.6,462.7 517.3,462.9 519.0,463.1 520.8,463.2 522.5,463.4 524.2,463.5 525.9,463.6 527.7,463.7 529.4,463.9 531.1,464.0 532.8,464.1 534.5,464.2 536.3,464.3 538.0,464.3 539.7,464.4 541.4,464.5 543.2,464.6 544.9,464.6 546.6,464.7 548.3,464.8 550.1,464.8 551.8,464.9 553.5,464.9 555.2,465.0 557.0,465.0 558.7,465.1 560.4,465.1 562.1,465.1 563.9,465.2 565.6,465.2 567.3,465.2 569.0,465.3 570.8,465.3 572.5,465.3 574.2,465.3 575.9,465.4 577.7,465.4 579.4,465.4 581.1,465.4 582.8,465.4 584.6,465.5 586.3,465.5 588.0,465.5 589.7,465.5 591.5,465.5 593.2,465.5 594.9,465.5 596.6,465.5 598.4,465.6 600.1,465.6 601.8,465.6 603.5,465.6 605.3,465.6 607.0,465.6 608.7,465.6 610.4,465.6 612.2,465.6 613.9,465.6 615.6,465.6 617.3,465.6 619.1,465.6 620.8,465.6 622.5,465.6 624.2,465.6 626.0,465.6 627.7,465.7 629.4,465.7 631.1,465.7 632.9,465.7 634.6,465.7 636.3,465.7 638.0,465.7 639.8,465.7 641.5,465.7 643.2,465.7 644.9,465.7 646.7,465.7 648.4,465.7 650.1,465.7 651.8,465.7 653.6,465.7 655.3,465.7 657.0,465.7 658.7,465.7 660.5,465.7 662.2,465.7 663.9,465.7 665.6,465.7 667.4,465.7 669.1,465.7 670.8,465.7 672.5,465.7 674.2,465.7" fill="none" stroke="none" marker-start="url(#mg)" marker-mid="url(#mg)" marker-end="url(#mg)"/>
<polyline points="101.7,465.7 103.7,465.7 105.8,465.7 107.8,465.7 109.9,465.7 111.9,465.6 114.0,465.6 116.1,465.5 118.1,465.5 120.2,465.4 122.2,465.2 124.3,465.0 126.4,464.7 128.4,464.4 130.5,464.0 132.5,463.6 134.6,463.0 136.7,462.3 138.7,461.5 140.8,460.6 142.8,459.5 144.9,458.3 147.0,456.9 149.0,455.4 151.1,453.6 153.1,451.7 155.2,449.6 157.3,447.3 159.3,444.8 161.4,442.0 163.4,439.1 165.5,435.9 167.6,432.5 169.6,428.9 171.7,425.1 173.7,421.0 175.8,416.7 177.9,412.2 179.9,407.6 182.0,402.7 184.0,397.6 186.1,392.3 188.2,386.9 190.2,381.3 192.3,375.6 194.3,369.7 196.4,363.7 198.5,357.6 200.5,351.4 202.6,345.2 204.6,338.8 206.7,332.4 208.8,326.0 210.8,319.6 212.9,313.2 214.9,306.7 217.0,300.4 219.1,294.0 221.1,287.8 223.2,281.6 225.2,275.5 227.3,269.5 229.4,263.6 231.4,257.8 233.5,252.3 235.5,246.8 237.6,241.6 239.7,236.5 241.7,231.6 243.8,226.9 245.8,222.4 247.9,218.2 249.9,214.1 252.0,210.3 254.1,206.7 256.1,203.4 258.2,200.3 260.2,197.5 262.3,194.9 264.4,192.5 266.4,190.4 268.5,188.6 270.5,187.0 272.6,185.7 274.7,184.6 276.7,183.7 278.8,183.1 280.8,182.8 282.9,182.7 285.0,182.8 287.0,183.2 289.1,183.9 291.1,184.8 293.2,186.0 295.3,187.4 297.3,189.0 299.4,190.9 301.4,192.9 303.5,195.2 305.6,197.6 307.6,200.2 309.7,202.9 311.7,205.8 313.8,208.9 315.9,212.1 317.9,215.4 320.0,218.8 322.0,222.3 324.1,225.9 326.2,229.6 328.2,233.3 330.3,237.2 332.3,241.1 334.4,245.0 336.5,249.0 338.5,253.0 340.6,257.0 342.6,261.0 344.7,265.1 346.8,269.2 348.8,273.3 350.9,277.3 352.9,281.4 355.0,285.4 357.1,289.5 359.1,293.5 361.2,297.5 363.2,301.4 365.3,305.3 367.4,309.2 369.4,313.0 371.5,316.8 373.5,320.6 375.6,324.3 377.7,327.9 379.7,331.5 381.8,335.1 383.8,338.6 385.9,342.0 387.9,345.4 390.0,348.7 392.1,351.9 394.1,355.1 396.2,358.2 398.2,361.3 400.3,364.3 402.4,367.2 404.4,370.1 406.5,372.9 408.5,375.7 410.6,378.4 412.7,381.0 414.7,383.6 416.8,386.1 418.8,388.5 420.9,390.9 423.0,393.3 425.0,395.5 427.1,397.7 429.1,399.9 431.2,402.0 433.3,404.0 435.3,406.0 437.4,407.9 439.4,409.8 441.5,411.6 443.6,413.4 445.6,415.1 447.7,416.8 449.7,418.4 451.8,420.0 453.9,421.6 455.9,423.0 458.0,424.5 460.0,425.9 462.1,427.2 464.2,428.6 466.2,429.8 468.3,431.1 470.3,432.3 472.4,433.4 474.5,434.5 476.5,435.6 478.6,436.7 480.6,437.7 482.7,438.7 484.8,439.6 486.8,440.6 488.9,441.5 490.9,442.3 493.0,443.2 495.1,444.0 497.1,444.8 499.2,445.5 501.2,446.2 503.3,446.9 505.4,447.6 507.4,448.3 509.5,448.9 511.5,449.5 513.6,450.1 515.7,450.7 517.7,451.2 519.8,451.8 521.8,452.3 523.9,452.8 526.0,453.3 528.0,453.7 530.1,454.2 532.1,454.6 534.2,455.0 536.2,455.4 538.3,455.8 540.4,456.2 542.4,456.5 544.5,456.9 546.5,457.2 548.6,457.5 550.7,457.8 552.7,458.1 554.8,458.4 556.8,458.7 558.9,458.9 561.0,459.2 563.0,459.5 565.1,459.7 567.1,459.9 569.2,460.1 571.3,460.3 573.3,460.6 575.4,460.8 577.4,460.9 579.5,461.1 581.6,461.3 583.6,461.5 585.7,461.6 587.7,461.8 589.8,461.9 591.9,462.1 593.9,462.2 596.0,462.4 598.0,462.5 600.1,462.6 602.2,462.7 604.2,462.8 606.3,463.0 608.3,463.1 610.4,463.2 612.5,463.3 614.5,463.4 616.6,463.4 618.6,463.5 620.7,463.6 622.8,463.7 624.8,463.8 626.9,463.9 628.9,463.9 631.0,464.0 633.1,464.1 635.1,464.1 637.2,464.2 639.2,464.2 641.3,464.3 643.4,464.4 645.4,464.4 647.5,464.5 649.5,464.5 651.6,464.6 653.7,464.6 655.7,464.6 657.8,464.7 659.8,464.7 661.9,464.8 664.0,464.8 666.0,464.8 668.1,464.9 670.1,464.9 672.2,464.9 674.2,465.0" fill="none" stroke="none" marker-start="url(#mo)" marker-mid="url(#mo)" marker-end="url(#mo)"/>
<use href="#sk" x="507.4" y="55.1"/>
<text class="lg" x="551.8" y="63.9" fill="#000">0 kGy</text>
<use href="#sr" x="507.4" y="89.2"/>
<text class="lg" x="551.8" y="98.0" fill="#e00000">10 kGy</text>
<use href="#spu" x="507.4" y="123.3"/>
<text class="lg" x="551.8" y="132.2" fill="#660066">30 kGy</text>
<use href="#sb" x="507.4" y="157.4"/>
<text class="lg" x="551.8" y="166.2" fill="#000099">50 kGy</text>
<use href="#sm" x="507.4" y="191.6"/>
<text class="lg" x="551.8" y="200.4" fill="#e040e0">70 kGy</text>
<use href="#sc" x="507.4" y="225.6"/>
<text class="lg" x="551.8" y="234.4" fill="#20e0e0">100 kGy</text>
<use href="#sdr" x="507.4" y="259.8"/>
<text class="lg" x="551.8" y="268.6" fill="#800000">150 kGy</text>
<use href="#sg" x="507.4" y="293.9"/>
<text class="lg" x="551.8" y="302.7" fill="#006600">200 kGy</text>
<use href="#so" x="507.4" y="327.9"/>
<text class="lg" x="551.8" y="336.8" fill="#707000">300 kGy</text>
<rect x="101.7" y="529.8" width="572.2" height="443.2" fill="none" stroke="#000" stroke-width="3.6"/>
<path d="M101.7 973.0h10.3M101.7 960.4h7.0M101.7 947.7h7.0M101.7 935.0h7.0M101.7 922.4h7.0M101.7 909.7h10.3M101.7 897.1h7.0M101.7 884.4h7.0M101.7 871.7h7.0M101.7 859.1h7.0M101.7 846.4h10.3M101.7 833.7h7.0M101.7 821.1h7.0M101.7 808.4h7.0M101.7 795.7h7.0M101.7 783.1h10.3M101.7 770.4h7.0M101.7 757.8h7.0M101.7 745.1h7.0M101.7 732.4h7.0M101.7 719.8h10.3M101.7 707.1h7.0M101.7 694.4h7.0M101.7 681.8h7.0M101.7 669.1h7.0M101.7 656.4h10.3M101.7 643.8h7.0M101.7 631.1h7.0M101.7 618.4h7.0M101.7 605.8h7.0M101.7 593.1h10.3M101.7 580.5h7.0M101.7 567.8h7.0M101.7 555.1h7.0M101.7 542.5h7.0M101.7 529.8h10.3M101.7 973.0v-10.3M134.4 973.0v-7.5M167.1 973.0v-7.5M199.8 973.0v-7.5M232.5 973.0v-7.5M265.2 973.0v-10.3M298.0 973.0v-7.5M330.7 973.0v-7.5M363.4 973.0v-7.5M396.1 973.0v-7.5M428.9 973.0v-10.3M461.6 973.0v-7.5M494.3 973.0v-7.5M527.0 973.0v-7.5M559.7 973.0v-7.5M592.4 973.0v-10.3M625.2 973.0v-7.5M657.9 973.0v-7.5" stroke="#000" stroke-width="2.2" fill="none"/>
<text class="tl" x="88.3" y="982.0" text-anchor="end">0</text>
<text class="tl" x="88.3" y="918.7" text-anchor="end">2</text>
<text class="tl" x="88.3" y="855.4" text-anchor="end">4</text>
<text class="tl" x="88.3" y="792.1" text-anchor="end">6</text>
<text class="tl" x="88.3" y="728.8" text-anchor="end">8</text>
<text class="tl" x="88.3" y="665.4" text-anchor="end">10</text>
<text class="tl" x="88.3" y="602.1" text-anchor="end">12</text>
<text class="tl" x="88.3" y="538.8" text-anchor="end">14</text>
<text class="tl" x="101.7" y="1011.2" text-anchor="middle">0.0</text>
<text class="tl" x="265.2" y="1011.2" text-anchor="middle">0.1</text>
<text class="tl" x="428.9" y="1011.2" text-anchor="middle">0.2</text>
<text class="tl" x="592.5" y="1011.2" text-anchor="middle">0.3</text>
<text class="pl" x="120.5" y="568.7">EW30</text>
<text class="yl" transform="translate(30.3 749.4) rotate(-90)" text-anchor="middle">Normalized intensity</text>
<polyline points="101.7,973.0 103.1,973.0 104.5,973.0 106.0,973.0 107.4,973.0 108.9,973.0 110.3,973.0 111.7,973.0 113.2,973.0 114.6,973.0 116.1,973.0 117.5,973.0 119.0,973.0 120.4,973.0 121.8,973.0 123.3,973.0 124.7,973.0 126.2,973.0 127.6,973.0 129.1,973.0 130.5,973.0 131.9,973.0 133.4,973.0 134.8,973.0 136.3,973.0 137.7,973.0 139.2,973.0 140.6,973.0 142.0,973.0 143.5,973.0 144.9,973.0 146.4,973.0 147.8,973.0 149.2,973.0 150.7,973.0 152.1,973.0 153.6,973.0 155.0,973.0 156.5,973.0 157.9,973.0 159.3,973.0 160.8,973.0 162.2,973.0 163.7,973.0 165.1,973.0 166.6,973.0 168.0,973.0 169.4,973.0 170.9,973.0 172.3,973.0 173.8,973.0 175.2,973.0 176.7,973.0 178.1,973.0 179.5,973.0 181.0,973.0 182.4,973.0 183.9,973.0 185.3,973.0 186.7,973.0 188.2,973.0 189.6,973.0 191.1,973.0 192.5,973.0 194.0,973.0 195.4,973.0 196.8,972.9 198.3,972.9 199.7,972.9 201.2,972.8 202.6,972.8 204.1,972.7 205.5,972.6 206.9,972.5 208.4,972.4 209.8,972.3 211.3,972.1 212.7,972.0 214.2,971.7 215.6,971.5 217.0,971.2 218.5,970.9 219.9,970.5 221.4,970.1 222.8,969.6 224.2,969.0 225.7,968.4 227.1,967.6 228.6,966.8 230.0,965.9 231.5,964.9 232.9,963.8 234.3,962.5 235.8,961.2 237.2,959.7 238.7,958.0 240.1,956.2 241.6,954.2 243.0,952.0 244.4,949.7 245.9,947.2 247.3,944.4 248.8,941.5 250.2,938.4 251.7,935.0 253.1,931.4 254.5,927.6 256.0,923.6 257.4,919.3 258.9,914.7 260.3,910.0 261.7,905.0 263.2,899.7 264.6,894.2 266.1,888.5 267.5,882.5 269.0,876.3 270.4,869.8 271.8,863.2 273.3,856.3 274.7,849.3 276.2,842.0 277.6,834.6 279.1,826.9 280.5,819.2 281.9,811.2 283.4,803.2 284.8,795.0 286.3,786.8 287.7,778.4 289.2,770.0 290.6,761.6 292.0,753.1 293.5,744.6 294.9,736.1 296.4,727.7 297.8,719.3 299.2,710.9 300.7,702.7 302.1,694.5 303.6,686.5 305.0,678.7 306.5,671.0 307.9,663.4 309.3,656.1 310.8,649.0 312.2,642.1 313.7,635.4 315.1,629.1 316.6,622.9 318.0,617.1 319.4,611.6 320.9,606.3 322.3,601.4 323.8,596.9 325.2,592.6 326.7,588.7 328.1,585.1 329.5,581.9 331.0,579.1 332.4,576.6 333.9,574.4 335.3,572.6 336.7,571.2 338.2,570.2 339.6,569.5 341.1,569.1 342.5,569.1 344.0,569.5 345.4,570.2 346.8,571.3 348.3,572.8 349.7,574.6 351.2,576.7 352.6,579.1 354.1,581.9 355.5,585.0 356.9,588.3 358.4,591.9 359.8,595.8 361.3,599.9 362.7,604.3 364.2,608.9 365.6,613.6 367.0,618.6 368.5,623.8 369.9,629.1 371.4,634.5 372.8,640.1 374.2,645.9 375.7,651.7 377.1,657.6 378.6,663.7 380.0,669.8 381.5,675.9 382.9,682.1 384.3,688.4 385.8,694.7 387.2,701.0 388.7,707.3 390.1,713.6 391.6,719.9 393.0,726.2 394.4,732.4 395.9,738.6 397.3,744.8 398.8,750.9 400.2,757.0 401.7,763.0 403.1,769.0 404.5,774.8 406.0,780.6 407.4,786.3 408.9,792.0 410.3,797.5 411.7,802.9 413.2,808.3 414.6,813.5 416.1,818.7 417.5,823.7 419.0,828.7 420.4,833.5 421.8,838.2 423.3,842.9 424.7,847.4 426.2,851.8 427.6,856.1 429.1,860.3 430.5,864.3 431.9,868.3 433.4,872.2 434.8,875.9 436.3,879.5 437.7,883.1 439.2,886.5 440.6,889.9 442.0,893.1 443.5,896.2 444.9,899.2 446.4,902.2 447.8,905.0 449.2,907.8 450.7,910.4 452.1,913.0 453.6,915.5 455.0,917.9 456.5,920.2 457.9,922.4 459.3,924.5 460.8,926.6 462.2,928.6 463.7,930.5 465.1,932.4 466.6,934.1 468.0,935.8 469.4,937.5 470.9,939.1 472.3,940.6 473.8,942.0 475.2,943.4 476.7,944.8 478.1,946.1 479.5,947.3 481.0,948.5 482.4,949.6 483.9,950.7 485.3,951.8 486.7,952.8 488.2,953.7 489.6,954.6 491.1,955.5 492.5,956.3 494.0,957.1 495.4,957.9 496.8,958.6 498.3,959.3 499.7,960.0 501.2,960.6 502.6,961.2 504.1,961.8 505.5,962.4 506.9,962.9 508.4,963.4 509.8,963.9 511.3,964.3 512.7,964.8 514.2,965.2 515.6,965.6 517.0,966.0 518.5,966.3 519.9,966.7 521.4,967.0 522.8,967.3 524.2,967.6 525.7,967.9 527.1,968.2 528.6,968.4 530.0,968.6 531.5,968.9 532.9,969.1 534.3,969.3 535.8,969.5 537.2,969.7 538.7,969.9 540.1,970.0 541.6,970.2 543.0,970.3 544.4,970.5 545.9,970.6 547.3,970.8 548.8,970.9 550.2,971.0 551.7,971.1 553.1,971.2 554.5,971.3 556.0,971.4 557.4,971.5 558.9,971.6 560.3,971.7 561.7,971.7 563.2,971.8 564.6,971.9 566.1,971.9 567.5,972.0 569.0,972.1 570.4,972.1 571.8,972.2 573.3,972.2 574.7,972.3 576.2,972.3 577.6,972.3 579.1,972.4 580.5,972.4 581.9,972.5 583.4,972.5 584.8,972.5 586.3,972.5 587.7,972.6 589.2,972.6 590.6,972.6 592.0,972.6 593.5,972.7 594.9,972.7 596.4,972.7 597.8,972.7 599.2,972.7 600.7,972.8 602.1,972.8 603.6,972.8 605.0,972.8 606.5,972.8 607.9,972.8 609.3,972.8 610.8,972.9 612.2,972.9 613.7,972.9 615.1,972.9 616.6,972.9 618.0,972.9 619.4,972.9 620.9,972.9 622.3,972.9 623.8,972.9 625.2,972.9 626.7,972.9 628.1,973.0 629.5,973.0 631.0,973.0 632.4,973.0 633.9,973.0 635.3,973.0 636.7,973.0 638.2,973.0 639.6,973.0 641.1,973.0 642.5,973.0 644.0,973.0 645.4,973.0 646.8,973.0 648.3,973.0 649.7,973.0 651.2,973.0 652.6,973.0 654.1,973.0 655.5,973.0 656.9,973.0 658.4,973.0 659.8,973.0 661.3,973.0 662.7,973.0 664.2,973.0 665.6,973.0 667.0,973.0 668.5,973.0 669.9,973.0 671.4,973.0 672.8,973.0 674.2,973.0" fill="none" stroke="none" marker-start="url(#mk)" marker-mid="url(#mk)" marker-end="url(#mk)"/>
<polyline points="101.7,973.0 103.3,973.0 105.0,973.0 106.7,973.0 108.3,973.0 110.0,973.0 111.7,973.0 113.3,973.0 115.0,973.0 116.7,973.0 118.3,973.0 120.0,973.0 121.7,973.0 123.4,973.0 125.0,973.0 126.7,973.0 128.4,973.0 130.0,973.0 131.7,973.0 133.4,973.0 135.0,973.0 136.7,973.0 138.4,973.0 140.0,973.0 141.7,973.0 143.4,973.0 145.1,973.0 146.7,973.0 148.4,973.0 150.1,973.0 151.7,973.0 153.4,973.0 155.1,973.0 156.7,973.0 158.4,973.0 160.1,973.0 161.7,973.0 163.4,973.0 165.1,973.0 166.8,973.0 168.4,973.0 170.1,973.0 171.8,973.0 173.4,973.0 175.1,973.0 176.8,973.0 178.4,973.0 180.1,973.0 181.8,973.0 183.4,972.9 185.1,972.9 186.8,972.9 188.5,972.8 190.1,972.7 191.8,972.7 193.5,972.6 195.1,972.5 196.8,972.3 198.5,972.2 200.1,971.9 201.8,971.7 203.5,971.4 205.2,971.1 206.8,970.7 208.5,970.3 210.2,969.7 211.8,969.1 213.5,968.5 215.2,967.7 216.8,966.8 218.5,965.8 220.2,964.7 221.8,963.4 223.5,962.0 225.2,960.4 226.9,958.7 228.5,956.8 230.2,954.7 231.9,952.4 233.5,949.9 235.2,947.2 236.9,944.3 238.5,941.1 240.2,937.7 241.9,934.0 243.5,930.1 245.2,925.9 246.9,921.5 248.6,916.8 250.2,911.9 251.9,906.6 253.6,901.2 255.2,895.4 256.9,889.4 258.6,883.2 260.2,876.7 261.9,870.0 263.6,863.1 265.2,855.9 266.9,848.6 268.6,841.1 270.3,833.4 271.9,825.5 273.6,817.6 275.3,809.5 276.9,801.3 278.6,793.0 280.3,784.7 281.9,776.4 283.6,768.0 285.3,759.7 287.0,751.4 288.6,743.1 290.3,735.0 292.0,726.9 293.6,718.9 295.3,711.1 297.0,703.5 298.6,696.1 300.3,688.8 302.0,681.8 303.6,675.1 305.3,668.6 307.0,662.4 308.7,656.5 310.3,650.9 312.0,645.6 313.7,640.6 315.3,636.0 317.0,631.8 318.7,627.9 320.3,624.4 322.0,621.3 323.7,618.5 325.3,616.1 327.0,614.1 328.7,612.5 330.4,611.3 332.0,610.5 333.7,610.0 335.4,609.9 337.0,610.1 338.7,610.6 340.4,611.4 342.0,612.5 343.7,613.8 345.4,615.5 347.0,617.4 348.7,619.5 350.4,621.9 352.1,624.6 353.7,627.5 355.4,630.6 357.1,634.0 358.7,637.6 360.4,641.4 362.1,645.4 363.7,649.6 365.4,653.9 367.1,658.5 368.8,663.1 370.4,668.0 372.1,673.0 373.8,678.1 375.4,683.3 377.1,688.7 378.8,694.1 380.4,699.7 382.1,705.3 383.8,711.0 385.4,716.7 387.1,722.5 388.8,728.3 390.5,734.2 392.1,740.1 393.8,746.0 395.5,751.9 397.1,757.7 398.8,763.6 400.5,769.4 402.1,775.3 403.8,781.0 405.5,786.8 407.1,792.4 408.8,798.1 410.5,803.6 412.2,809.1 413.8,814.5 415.5,819.9 417.2,825.1 418.8,830.3 420.5,835.3 422.2,840.3 423.8,845.2 425.5,850.0 427.2,854.6 428.9,859.2 430.5,863.7 432.2,868.0 433.9,872.3 435.5,876.4 437.2,880.4 438.9,884.3 440.5,888.1 442.2,891.8 443.9,895.4 445.5,898.8 447.2,902.2 448.9,905.4 450.6,908.5 452.2,911.5 453.9,914.5 455.6,917.3 457.2,920.0 458.9,922.6 460.6,925.1 462.2,927.5 463.9,929.8 465.6,932.0 467.2,934.1 468.9,936.2 470.6,938.1 472.3,940.0 473.9,941.8 475.6,943.5 477.3,945.1 478.9,946.7 480.6,948.2 482.3,949.6 483.9,950.9 485.6,952.2 487.3,953.4 488.9,954.6 490.6,955.7 492.3,956.7 494.0,957.7 495.6,958.6 497.3,959.5 499.0,960.4 500.6,961.2 502.3,961.9 504.0,962.6 505.6,963.3 507.3,963.9 509.0,964.5 510.6,965.1 512.3,965.6 514.0,966.1 515.7,966.6 517.3,967.0 519.0,967.4 520.7,967.8 522.3,968.2 524.0,968.5 525.7,968.8 527.3,969.1 529.0,969.4 530.7,969.7 532.4,969.9 534.0,970.1 535.7,970.3 537.4,970.5 539.0,970.7 540.7,970.9 542.4,971.1 544.0,971.2 545.7,971.3 547.4,971.5 549.0,971.6 550.7,971.7 552.4,971.8 554.1,971.9 555.7,972.0 557.4,972.1 559.1,972.2 560.7,972.2 562.4,972.3 564.1,972.4" fill="none" stroke="none" marker-start="url(#mr)" marker-mid="url(#mr)" marker-end="url(#mr)"/>
<polyline points="101.7,973.0 104.0,973.0 106.4,973.0 108.8,973.0 111.2,973.0 113.6,973.0 116.0,973.0 118.4,973.0 120.7,973.0 123.1,973.0 125.5,973.0 127.9,973.0 130.3,973.0 132.7,973.0 135.1,973.0 137.4,973.0 139.8,973.0 142.2,973.0 144.6,972.9 147.0,972.9 149.4,972.8 151.8,972.6 154.1,972.5 156.5,972.2 158.9,971.9 161.3,971.5 163.7,970.9 166.1,970.3 168.5,969.5 170.8,968.5 173.2,967.3 175.6,966.0 178.0,964.4 180.4,962.6 182.8,960.6 185.2,958.3 187.5,955.7 189.9,952.9 192.3,949.8 194.7,946.4 197.1,942.7 199.5,938.8 201.9,934.6 204.2,930.1 206.6,925.4 209.0,920.5 211.4,915.3 213.8,909.9 216.2,904.3 218.6,898.5 220.9,892.6 223.3,886.6 225.7,880.4 228.1,874.1 230.5,867.8 232.9,861.4 235.3,855.0 237.6,848.6 240.0,842.2 242.4,835.8 244.8,829.5 247.2,823.3 249.6,817.1 252.0,811.1 254.3,805.2 256.7,799.4 259.1,793.8 261.5,788.4 263.9,783.1 266.3,778.1 268.7,773.3 271.0,768.6 273.4,764.2 275.8,760.1 278.2,756.1 280.6,752.4 283.0,749.0 285.4,745.8 287.7,742.8 290.1,740.1 292.5,737.6 294.9,735.4 297.3,733.4 299.7,731.7 302.1,730.2 304.4,729.0 306.8,727.9 309.2,727.2 311.6,726.6 314.0,726.2 316.4,726.1 318.8,726.2 321.1,726.5 323.5,727.0 325.9,727.8 328.3,728.8 330.7,730.0 333.1,731.3 335.5,732.9 337.8,734.6 340.2,736.6 342.6,738.6 345.0,740.9 347.4,743.2 349.8,745.8 352.2,748.4 354.5,751.2 356.9,754.0 359.3,757.0 361.7,760.1 364.1,763.2 366.5,766.4 368.9,769.7 371.2,773.1 373.6,776.5 376.0,780.0 378.4,783.5 380.8,787.0 383.2,790.5 385.6,794.1 387.9,797.7 390.3,801.3 392.7,804.9 395.1,808.5 397.5,812.2 399.9,815.7 402.3,819.3 404.7,822.9 407.0,826.4 409.4,829.9 411.8,833.4 414.2,836.9 416.6,840.3 419.0,843.7 421.4,847.0 423.7,850.3 426.1,853.6 428.5,856.8 430.9,859.9 433.3,863.1 435.7,866.1 438.1,869.1 440.4,872.1 442.8,875.0 445.2,877.8 447.6,880.6 450.0,883.3 452.4,886.0 454.8,888.6 457.1,891.2 459.5,893.7 461.9,896.2 464.3,898.6 466.7,900.9 469.1,903.2 471.5,905.4 473.8,907.6 476.2,909.7 478.6,911.8 481.0,913.8 483.4,915.7 485.8,917.6 488.2,919.5 490.5,921.3 492.9,923.0 495.3,924.7 497.7,926.4 500.1,928.0 502.5,929.6 504.9,931.1 507.2,932.5 509.6,934.0 512.0,935.3 514.4,936.7 516.8,938.0 519.2,939.2 521.6,940.4 523.9,941.6 526.3,942.8 528.7,943.9 531.1,944.9 533.5,946.0 535.9,947.0 538.3,947.9 540.6,948.9 543.0,949.8 545.4,950.6 547.8,951.5 550.2,952.3 552.6,953.1 555.0,953.8 557.3,954.6 559.7,955.3 562.1,956.0 564.5,956.6 566.9,957.2 569.3,957.9 571.7,958.4 574.0,959.0 576.4,959.6 578.8,960.1 581.2,960.6 583.6,961.1 586.0,961.6 588.4,962.0 590.7,962.4 593.1,962.9 595.5,963.3 597.9,963.7 600.3,964.0 602.7,964.4 605.1,964.7 607.4,965.1 609.8,965.4 612.2,965.7 614.6,966.0 617.0,966.3 619.4,966.6 621.8,966.8 624.1,967.1 626.5,967.3 628.9,967.6 631.3,967.8 633.7,968.0 636.1,968.2 638.5,968.4 640.8,968.6 643.2,968.8 645.6,969.0 648.0,969.1 650.4,969.3 652.8,969.5 655.2,969.6 657.5,969.7 659.9,969.9 662.3,970.0 664.7,970.1 667.1,970.3 669.5,970.4 671.9,970.5 674.2,970.6" fill="none" stroke="none" marker-start="url(#mpu)" marker-mid="url(#mpu)" marker-end="url(#mpu)"/>
<polyline points="101.7,973.0 103.7,973.0 105.7,973.0 107.7,973.0 109.8,973.0 111.8,973.0 113.8,973.0 115.9,973.0 117.9,973.0 119.9,973.0 122.0,973.0 124.0,973.0 126.0,973.0 128.0,973.0 130.1,973.0 132.1,973.0 134.1,973.0 136.2,973.0 138.2,973.0 140.2,973.0 142.3,972.9 144.3,972.8 146.3,972.7 148.4,972.6 150.4,972.4 152.4,972.2 154.4,972.0 156.5,971.6 158.5,971.2 160.5,970.6 162.6,970.0 164.6,969.2 166.6,968.3 168.7,967.3 170.7,966.0 172.7,964.6 174.7,963.0 176.8,961.2 178.8,959.2 180.8,956.9 182.9,954.4 184.9,951.6 186.9,948.6 189.0,945.3 191.0,941.7 193.0,937.9 195.1,933.8 197.1,929.4 199.1,924.8 201.1,919.9 203.2,914.7 205.2,909.3 207.2,903.7 209.3,897.9 211.3,891.8 213.3,885.6 215.4,879.2 217.4,872.6 219.4,865.9 221.4,859.0 223.5,852.1 225.5,845.1 227.5,838.0 229.6,830.9 231.6,823.7 233.6,816.6 235.7,809.4 237.7,802.4 239.7,795.3 241.8,788.4 243.8,781.5 245.8,774.8 247.8,768.2 249.9,761.7 251.9,755.5 253.9,749.3 256.0,743.4 258.0,737.7 260.0,732.2 262.1,727.0 264.1,721.9 266.1,717.2 268.2,712.6 270.2,708.4 272.2,704.4 274.2,700.7 276.3,697.2 278.3,694.0 280.3,691.1 282.4,688.5 284.4,686.2 286.4,684.1 288.5,682.3 290.5,680.8 292.5,679.6 294.5,678.6 296.6,677.9 298.6,677.4 300.6,677.2 302.7,677.3 304.7,677.6 306.7,678.3 308.8,679.2 310.8,680.3 312.8,681.7 314.9,683.4 316.9,685.3 318.9,687.4 320.9,689.8 323.0,692.4 325.0,695.1 327.0,698.1 329.1,701.2 331.1,704.5 333.1,708.0 335.2,711.6 337.2,715.4 339.2,719.3 341.2,723.3 343.3,727.4 345.3,731.6 347.3,736.0 349.4,740.3 351.4,744.8 353.4,749.3 355.5,753.9 357.5,758.5 359.5,763.1 361.6,767.8 363.6,772.5 365.6,777.2 367.6,781.9 369.7,786.6 371.7,791.3 373.7,795.9 375.8,800.6 377.8,805.2 379.8,809.7 381.9,814.3 383.9,818.8 385.9,823.2 387.9,827.6 390.0,831.9 392.0,836.2 394.0,840.4 396.1,844.5 398.1,848.6 400.1,852.6 402.2,856.5 404.2,860.4 406.2,864.1 408.3,867.8 410.3,871.5 412.3,875.0 414.3,878.4 416.4,881.8 418.4,885.1 420.4,888.3 422.5,891.4 424.5,894.4 426.5,897.4 428.6,900.3 430.6,903.1 432.6,905.8 434.7,908.4 436.7,910.9 438.7,913.4 440.7,915.8 442.8,918.1 444.8,920.4 446.8,922.5 448.9,924.6 450.9,926.7 452.9,928.6 455.0,930.5 457.0,932.3 459.0,934.1 461.0,935.8 463.1,937.4 465.1,939.0 467.1,940.5 469.2,942.0 471.2,943.4 473.2,944.7 475.3,946.0 477.3,947.3 479.3,948.4 481.4,949.6 483.4,950.7 485.4,951.7 487.4,952.8 489.5,953.7 491.5,954.6 493.5,955.5 495.6,956.4 497.6,957.2 499.6,958.0 501.7,958.7 503.7,959.4 505.7,960.1 507.7,960.7 509.8,961.4 511.8,962.0 513.8,962.5 515.9,963.1 517.9,963.6 519.9,964.1 522.0,964.5 524.0,965.0 526.0,965.4 528.1,965.8 530.1,966.2 532.1,966.5 534.1,966.9 536.2,967.2 538.2,967.5 540.2,967.8 542.3,968.1 544.3,968.4 546.3,968.6 548.4,968.9 550.4,969.1 552.4,969.3 554.5,969.5 556.5,969.7 558.5,969.9 560.5,970.1 562.6,970.2 564.6,970.4 566.6,970.5 568.7,970.7 570.7,970.8 572.7,970.9 574.8,971.1 576.8,971.2 578.8,971.3 580.8,971.4 582.9,971.5 584.9,971.6 586.9,971.7 589.0,971.7 591.0,971.8 593.0,971.9 595.1,972.0 597.1,972.0 599.1,972.1 601.2,972.1 603.2,972.2 605.2,972.2 607.2,972.3 609.3,972.3 611.3,972.4 613.3,972.4 615.4,972.5 617.4,972.5 619.4,972.5 621.5,972.6 623.5,972.6 625.5,972.6 627.5,972.6 629.6,972.7 631.6,972.7 633.6,972.7 635.7,972.7 637.7,972.7 639.7,972.8 641.8,972.8 643.8,972.8 645.8,972.8 647.9,972.8 649.9,972.8 651.9,972.9 653.9,972.9 656.0,972.9 658.0,972.9 660.0,972.9 662.1,972.9 664.1,972.9 666.1,972.9 668.2,972.9 670.2,972.9 672.2,972.9 674.2,972.9" fill="none" stroke="none" marker-start="url(#mb)" marker-mid="url(#mb)" marker-end="url(#mb)"/>
<polyline points="101.7,973.0 103.7,973.0 105.8,973.0 107.9,973.0 109.9,973.0 112.0,973.0 114.1,973.0 116.2,973.0 118.2,973.0 120.3,973.0 122.4,973.0 124.5,973.0 126.5,973.0 128.6,973.0 130.7,973.0 132.8,973.0 134.8,973.0 136.9,972.9 139.0,972.9 141.1,972.8 143.1,972.6 145.2,972.4 147.3,972.1 149.4,971.8 151.4,971.3 153.5,970.6 155.6,969.8 157.7,968.8 159.7,967.6 161.8,966.2 163.9,964.5 166.0,962.5 168.0,960.3 170.1,957.7 172.2,954.8 174.3,951.6 176.3,948.0 178.4,944.1 180.5,939.9 182.6,935.3 184.6,930.3 186.7,925.0 188.8,919.4 190.9,913.5 192.9,907.3 195.0,900.9 197.1,894.2 199.2,887.2 201.2,880.1 203.3,872.8 205.4,865.3 207.5,857.8 209.5,850.1 211.6,842.4 213.7,834.7 215.8,826.9 217.8,819.2 219.9,811.5 222.0,803.9 224.1,796.4 226.1,789.0 228.2,781.8 230.3,774.7 232.4,767.8 234.4,761.1 236.5,754.6 238.6,748.4 240.7,742.4 242.7,736.7 244.8,731.2 246.9,726.0 248.9,721.1 251.0,716.5 253.1,712.2 255.2,708.2 257.2,704.5 259.3,701.1 261.4,698.0 263.5,695.2 265.5,692.7 267.6,690.5 269.7,688.5 271.8,686.9 273.8,685.6 275.9,684.5 278.0,683.8 280.1,683.2 282.1,683.0 284.2,683.0 286.3,683.2 288.4,683.8 290.4,684.6 292.5,685.6 294.6,686.9 296.7,688.4 298.7,690.2 300.8,692.1 302.9,694.3 305.0,696.7 307.0,699.3 309.1,702.1 311.2,705.0 313.3,708.1 315.3,711.3 317.4,714.7 319.5,718.3 321.6,721.9 323.6,725.7 325.7,729.6 327.8,733.6 329.9,737.6 331.9,741.8 334.0,746.0 336.1,750.2 338.2,754.6 340.2,758.9 342.3,763.3 344.4,767.8 346.5,772.2 348.5,776.7 350.6,781.2 352.7,785.6 354.8,790.1 356.8,794.6 358.9,799.0 361.0,803.4 363.1,807.8 365.1,812.1 367.2,816.5 369.3,820.7 371.4,825.0 373.4,829.1 375.5,833.3 377.6,837.3 379.7,841.3 381.7,845.3 383.8,849.2 385.9,853.0 387.9,856.7 390.0,860.4 392.1,864.0 394.2,867.6 396.2,871.0 398.3,874.4 400.4,877.8 402.5,881.0 404.5,884.2 406.6,887.3 408.7,890.3 410.8,893.2 412.8,896.1 414.9,898.9 417.0,901.6 419.1,904.2 421.1,906.8 423.2,909.3 425.3,911.7 427.4,914.0 429.4,916.3 431.5,918.5 433.6,920.6 435.7,922.7 437.7,924.7 439.8,926.7 441.9,928.5 444.0,930.3 446.0,932.1 448.1,933.8 450.2,935.4 452.3,937.0 454.3,938.5 456.4,940.0 458.5,941.4 460.6,942.7 462.6,944.1 464.7,945.3 466.8,946.5 468.9,947.7 470.9,948.8 473.0,949.9 475.1,950.9 477.2,951.9 479.2,952.9 481.3,953.8 483.4,954.7 485.5,955.5 487.5,956.3 489.6,957.1 491.7,957.9 493.8,958.6 495.8,959.3 497.9,959.9 500.0,960.5 502.1,961.1 504.1,961.7 506.2,962.3 508.3,962.8 510.4,963.3 512.4,963.8 514.5,964.2 516.6,964.7 518.7,965.1 520.7,965.5 522.8,965.8 524.9,966.2 527.0,966.5 529.0,966.9 531.1,967.2 533.2,967.5 535.2,967.8 537.3,968.0 539.4,968.3 541.5,968.5 543.5,968.8 545.6,969.0 547.7,969.2 549.8,969.4 551.8,969.6 553.9,969.8 556.0,970.0 558.1,970.1 560.1,970.3 562.2,970.4 564.3,970.6 566.4,970.7 568.4,970.8 570.5,970.9 572.6,971.1 574.7,971.2 576.7,971.3 578.8,971.4 580.9,971.5 583.0,971.5 585.0,971.6 587.1,971.7 589.2,971.8 591.3,971.9 593.3,971.9 595.4,972.0 597.5,972.0 599.6,972.1 601.6,972.1 603.7,972.2 605.8,972.2 607.9,972.3 609.9,972.3 612.0,972.4 614.1,972.4 616.2,972.4 618.2,972.5 620.3,972.5 622.4,972.5 624.5,972.6 626.5,972.6 628.6,972.6 630.7,972.7 632.8,972.7 634.8,972.7 636.9,972.7 639.0,972.7 641.1,972.8 643.1,972.8 645.2,972.8 647.3,972.8 649.4,972.8 651.4,972.8 653.5,972.8 655.6,972.9 657.7,972.9 659.7,972.9 661.8,972.9 663.9,972.9 666.0,972.9 668.0,972.9 670.1,972.9 672.2,972.9 674.2,972.9" fill="none" stroke="none" marker-start="url(#mm)" marker-mid="url(#mm)" marker-end="url(#mm)"/>
<polyline points="101.7,973.0 103.7,973.0 105.8,973.0 107.8,973.0 109.9,973.0 111.9,973.0 114.0,973.0 116.1,973.0 118.1,973.0 120.2,973.0 122.2,973.0 124.3,973.0 126.4,973.0 128.4,972.9 130.5,972.9 132.5,972.7 134.6,972.6 136.7,972.3 138.7,971.9 140.8,971.5 142.8,970.9 144.9,970.1 147.0,969.1 149.0,967.9 151.1,966.4 153.1,964.7 155.2,962.7 157.3,960.3 159.3,957.6 161.4,954.6 163.4,951.2 165.5,947.4 167.6,943.3 169.6,938.8 171.7,933.9 173.7,928.6 175.8,923.0 177.9,917.0 179.9,910.7 182.0,904.1 184.0,897.2 186.1,890.0 188.2,882.7 190.2,875.0 192.3,867.3 194.3,859.3 196.4,851.3 198.5,843.1 200.5,834.9 202.6,826.7 204.6,818.5 206.7,810.3 208.8,802.1 210.8,794.1 212.9,786.1 214.9,778.3 217.0,770.7 219.1,763.3 221.1,756.0 223.2,749.0 225.2,742.2 227.3,735.7 229.4,729.5 231.4,723.5 233.5,717.9 235.5,712.6 237.6,707.5 239.7,702.8 241.7,698.4 243.8,694.4 245.8,690.7 247.9,687.3 249.9,684.2 252.0,681.5 254.1,679.1 256.1,677.0 258.2,675.2 260.2,673.7 262.3,672.6 264.4,671.8 266.4,671.2 268.5,670.9 270.5,670.9 272.6,671.2 274.7,671.8 276.7,672.6 278.8,673.6 280.8,674.9 282.9,676.4 285.0,678.2 287.0,680.2 289.1,682.3 291.1,684.7 293.2,687.3 295.3,690.1 297.3,693.0 299.4,696.1 301.4,699.4 303.5,702.8 305.6,706.4 307.6,710.1 309.7,713.9 311.7,717.8 313.8,721.8 315.9,725.9 317.9,730.1 320.0,734.3 322.0,738.7 324.1,743.1 326.2,747.5 328.2,752.0 330.3,756.5 332.3,761.0 334.4,765.6 336.5,770.2 338.5,774.7 340.6,779.3 342.6,783.9 344.7,788.5 346.8,793.0 348.8,797.5 350.9,802.0 352.9,806.5 355.0,810.9 357.1,815.3 359.1,819.6 361.2,823.9 363.2,828.1 365.3,832.3 367.4,836.4 369.4,840.5 371.5,844.5 373.5,848.4 375.6,852.2 377.7,856.0 379.7,859.8 381.8,863.4 383.8,867.0 385.9,870.5 387.9,873.9 390.0,877.2 392.1,880.5 394.1,883.7 396.2,886.8 398.2,889.9 400.3,892.8 402.4,895.7 404.4,898.5 406.5,901.3 408.5,903.9 410.6,906.5 412.7,909.0 414.7,911.4 416.8,913.8 418.8,916.1 420.9,918.3 423.0,920.5 425.0,922.6 427.1,924.6 429.1,926.5 431.2,928.4 433.3,930.3 435.3,932.0 437.4,933.7 439.4,935.4 441.5,937.0 443.6,938.5 445.6,940.0 447.7,941.4 449.7,942.8 451.8,944.1 453.9,945.4 455.9,946.6 458.0,947.8 460.0,948.9 462.1,950.0 464.2,951.0 466.2,952.0 468.3,953.0 470.3,953.9 472.4,954.8 474.5,955.6 476.5,956.5 478.6,957.2 480.6,958.0 482.7,958.7 484.8,959.4 486.8,960.0 488.9,960.7 490.9,961.3 493.0,961.8 495.1,962.4 497.1,962.9 499.2,963.4 501.2,963.9 503.3,964.3 505.4,964.8 507.4,965.2 509.5,965.6 511.5,966.0 513.6,966.3 515.7,966.7 517.7,967.0 519.8,967.3 521.8,967.6 523.9,967.9 526.0,968.2 528.0,968.4 530.1,968.7 532.1,968.9 534.2,969.1 536.2,969.3 538.3,969.5 540.4,969.7 542.4,969.9 544.5,970.1 546.5,970.2 548.6,970.4 550.7,970.5 552.7,970.7 554.8,970.8 556.8,970.9 558.9,971.0 561.0,971.1 563.0,971.3 565.1,971.4 567.1,971.4 569.2,971.5 571.3,971.6 573.3,971.7 575.4,971.8 577.4,971.9 579.5,971.9 581.6,972.0 583.6,972.0 585.7,972.1 587.7,972.2 589.8,972.2 591.9,972.3 593.9,972.3 596.0,972.3 598.0,972.4 600.1,972.4 602.2,972.5 604.2,972.5 606.3,972.5 608.3,972.6 610.4,972.6 612.5,972.6 614.5,972.6 616.6,972.7 618.6,972.7 620.7,972.7 622.8,972.7 624.8,972.7 626.9,972.8 628.9,972.8 631.0,972.8 633.1,972.8 635.1,972.8 637.2,972.8 639.2,972.9 641.3,972.9 643.4,972.9 645.4,972.9 647.5,972.9 649.5,972.9 651.6,972.9 653.7,972.9 655.7,972.9 657.8,972.9 659.8,972.9 661.9,972.9 664.0,973.0 666.0,973.0 668.1,973.0 670.1,973.0 672.2,973.0 674.2,973.0" fill="none" stroke="none" marker-start="url(#mc)" marker-mid="url(#mc)" marker-end="url(#mc)"/>
<polyline points="101.7,973.0 103.9,973.0 106.1,973.0 108.3,973.0 110.6,973.0 112.8,973.0 115.0,973.0 117.2,973.0 119.5,972.9 121.7,972.8 123.9,972.6 126.2,972.3 128.4,971.7 130.6,971.0 132.8,970.0 135.1,968.7 137.3,967.0 139.5,964.9 141.8,962.5 144.0,959.5 146.2,956.1 148.4,952.2 150.7,947.9 152.9,943.0 155.1,937.7 157.4,932.0 159.6,925.8 161.8,919.3 164.0,912.3 166.3,905.1 168.5,897.6 170.7,889.8 172.9,881.8 175.2,873.6 177.4,865.3 179.6,857.0 181.9,848.6 184.1,840.1 186.3,831.7 188.5,823.4 190.8,815.2 193.0,807.1 195.2,799.2 197.5,791.4 199.7,783.9 201.9,776.5 204.1,769.5 206.4,762.7 208.6,756.1 210.8,749.9 213.1,744.0 215.3,738.3 217.5,733.0 219.7,728.1 222.0,723.4 224.2,719.1 226.4,715.1 228.6,711.4 230.9,708.1 233.1,705.0 235.3,702.3 237.6,699.9 239.8,697.9 242.0,696.1 244.2,694.6 246.5,693.4 248.7,692.4 250.9,691.8 253.2,691.3 255.4,691.2 257.6,691.3 259.8,691.6 262.1,692.2 264.3,693.1 266.5,694.2 268.8,695.6 271.0,697.1 273.2,698.9 275.4,700.9 277.7,703.1 279.9,705.5 282.1,708.1 284.3,710.8 286.6,713.7 288.8,716.8 291.0,720.0 293.3,723.3 295.5,726.8 297.7,730.4 299.9,734.0 302.2,737.8 304.4,741.7 306.6,745.6 308.9,749.6 311.1,753.7 313.3,757.8 315.5,762.0 317.8,766.2 320.0,770.4 322.2,774.7 324.5,778.9 326.7,783.2 328.9,787.5 331.1,791.8 333.4,796.1 335.6,800.3 337.8,804.6 340.0,808.8 342.3,813.0 344.5,817.1 346.7,821.2 349.0,825.3 351.2,829.3 353.4,833.3 355.6,837.3 357.9,841.1 360.1,845.0 362.3,848.7 364.6,852.4 366.8,856.1 369.0,859.7 371.2,863.2 373.5,866.6 375.7,870.0 377.9,873.3 380.2,876.5 382.4,879.7 384.6,882.8 386.8,885.8 389.1,888.8 391.3,891.7 393.5,894.5 395.7,897.2 398.0,899.9 400.2,902.5 402.4,905.0 404.7,907.5 406.9,909.9 409.1,912.2 411.3,914.5 413.6,916.7 415.8,918.8 418.0,920.9 420.3,922.9 422.5,924.8 424.7,926.7 426.9,928.5 429.2,930.2 431.4,931.9 433.6,933.6 435.9,935.2 438.1,936.7 440.3,938.2 442.5,939.6 444.8,941.0 447.0,942.3 449.2,943.6 451.4,944.9 453.7,946.1 455.9,947.2 458.1,948.3 460.4,949.4 462.6,950.4 464.8,951.4 467.0,952.3 469.3,953.2 471.5,954.1 473.7,955.0 476.0,955.8 478.2,956.5 480.4,957.3 482.6,958.0 484.9,958.7 487.1,959.3 489.3,960.0 491.6,960.6 493.8,961.2 496.0,961.7 498.2,962.2 500.5,962.7 502.7,963.2 504.9,963.7 507.1,964.1 509.4,964.6 511.6,965.0 513.8,965.4 516.1,965.7 518.3,966.1 520.5,966.4 522.7,966.8 525.0,967.1 527.2,967.4 529.4,967.6 531.7,967.9 533.9,968.2 536.1,968.4 538.3,968.6 540.6,968.9 542.8,969.1 545.0,969.3 547.3,969.5 549.5,969.6 551.7,969.8 553.9,970.0 556.2,970.1 558.4,970.3 560.6,970.4 562.8,970.6 565.1,970.7 567.3,970.8 569.5,970.9 571.8,971.0 574.0,971.2 576.2,971.3 578.4,971.3 580.7,971.4 582.9,971.5 585.1,971.6 587.4,971.7 589.6,971.8 591.8,971.8 594.0,971.9 596.3,972.0 598.5,972.0 600.7,972.1 603.0,972.1 605.2,972.2 607.4,972.2 609.6,972.3 611.9,972.3 614.1,972.3 616.3,972.4 618.5,972.4 620.8,972.5 623.0,972.5 625.2,972.5 627.5,972.5 629.7,972.6 631.9,972.6 634.1,972.6 636.4,972.6 638.6,972.7 640.8,972.7 643.1,972.7 645.3,972.7 647.5,972.7 649.7,972.8 652.0,972.8 654.2,972.8 656.4,972.8 658.7,972.8 660.9,972.8 663.1,972.8 665.3,972.9 667.6,972.9 669.8,972.9 672.0,972.9 674.2,972.9" fill="none" stroke="none" marker-start="url(#mdr)" marker-mid="url(#mdr)" marker-end="url(#mdr)"/>
<polyline points="101.7,973.0 103.7,973.0 105.8,973.0 107.9,973.0 110.0,973.0 112.1,973.0 114.2,973.0 116.3,972.9 118.4,972.7 120.5,972.4 122.6,972.0 124.7,971.5 126.8,970.7 128.9,969.7 131.0,968.4 133.1,966.8 135.2,964.9 137.3,962.6 139.4,959.9 141.5,956.8 143.6,953.3 145.7,949.4 147.8,945.0 149.9,940.2 152.0,935.0 154.1,929.4 156.2,923.4 158.3,917.1 160.4,910.4 162.5,903.4 164.6,896.1 166.7,888.6 168.8,880.8 170.9,872.9 173.0,864.8 175.1,856.5 177.2,848.2 179.3,839.9 181.4,831.5 183.5,823.2 185.5,814.9 187.6,806.7 189.7,798.6 191.8,790.6 193.9,782.8 196.0,775.2 198.1,767.8 200.2,760.7 202.3,753.7 204.4,747.1 206.5,740.7 208.6,734.6 210.7,728.9 212.8,723.4 214.9,718.3 217.0,713.4 219.1,709.0 221.2,704.8 223.3,701.0 225.4,697.5 227.5,694.4 229.6,691.6 231.7,689.1 233.8,686.9 235.9,685.1 238.0,683.6 240.1,682.4 242.2,681.5 244.3,680.9 246.4,680.5 248.5,680.5 250.6,680.7 252.7,681.1 254.8,681.8 256.9,682.8 259.0,683.9 261.1,685.3 263.2,686.9 265.2,688.8 267.3,690.8 269.4,693.0 271.5,695.4 273.6,697.9 275.7,700.7 277.8,703.6 279.9,706.6 282.0,709.8 284.1,713.1 286.2,716.6 288.3,720.2 290.4,723.8 292.5,727.6 294.6,731.5 296.7,735.4 298.8,739.5 300.9,743.5 303.0,747.7 305.1,751.9 307.2,756.2 309.3,760.4 311.4,764.8 313.5,769.1 315.6,773.5 317.7,777.8 319.8,782.2 321.9,786.6 324.0,790.9 326.1,795.3 328.2,799.6 330.3,803.9 332.4,808.2 334.5,812.5 336.6,816.7 338.7,820.8 340.8,825.0 342.9,829.1 345.0,833.1 347.0,837.1 349.1,841.0 351.2,844.9 353.3,848.7 355.4,852.5 357.5,856.2 359.6,859.8 361.7,863.4 363.8,866.8 365.9,870.3 368.0,873.6 370.1,876.9 372.2,880.1 374.3,883.2 376.4,886.3 378.5,889.3 380.6,892.2 382.7,895.1 384.8,897.8 386.9,900.5 389.0,903.2 391.1,905.7 393.2,908.2 395.3,910.6 397.4,913.0 399.5,915.3 401.6,917.5 403.7,919.6 405.8,921.7 407.9,923.7 410.0,925.7 412.1,927.6 414.2,929.4 416.3,931.2 418.4,932.9 420.5,934.6 422.6,936.2 424.7,937.7 426.8,939.2 428.9,940.6 430.9,942.0 433.0,943.3 435.1,944.6 437.2,945.9 439.3,947.1 441.4,948.2 443.5,949.3 445.6,950.4 447.7,951.4 449.8,952.4 451.9,953.3 454.0,954.2 456.1,955.1 458.2,955.9 460.3,956.7 462.4,957.5 464.5,958.2 466.6,958.9 468.7,959.6 470.8,960.2 472.9,960.8 475.0,961.4 477.1,962.0 479.2,962.5 481.3,963.1 483.4,963.5 485.5,964.0 487.6,964.5 489.7,964.9 491.8,965.3 493.9,965.7 496.0,966.1 498.1,966.4 500.2,966.8 502.3,967.1 504.4,967.4 506.5,967.7 508.6,968.0 510.6,968.2 512.7,968.5 514.8,968.7 516.9,969.0 519.0,969.2 521.1,969.4 523.2,969.6 525.3,969.8 527.4,969.9 529.5,970.1 531.6,970.3 533.7,970.4 535.8,970.6 537.9,970.7 540.0,970.8 542.1,970.9 544.2,971.1 546.3,971.2 548.4,971.3 550.5,971.4 552.6,971.5 554.7,971.6 556.8,971.6 558.9,971.7 561.0,971.8 563.1,971.9 565.2,971.9 567.3,972.0 569.4,972.1 571.5,972.1 573.6,972.2 575.7,972.2 577.8,972.3 579.9,972.3 582.0,972.4 584.1,972.4 586.2,972.4 588.3,972.5 590.4,972.5 592.4,972.5 594.5,972.6 596.6,972.6 598.7,972.6 600.8,972.7 602.9,972.7 605.0,972.7 607.1,972.7 609.2,972.7 611.3,972.8 613.4,972.8 615.5,972.8 617.6,972.8 619.7,972.8 621.8,972.8 623.9,972.8 626.0,972.9 628.1,972.9 630.2,972.9 632.3,972.9 634.4,972.9 636.5,972.9 638.6,972.9 640.7,972.9 642.8,972.9 644.9,972.9 647.0,972.9 649.1,973.0 651.2,973.0 653.3,973.0 655.4,973.0 657.5,973.0 659.6,973.0 661.7,973.0 663.8,973.0 665.9,973.0 668.0,973.0 670.1,973.0 672.2,973.0 674.2,973.0" fill="none" stroke="none" marker-start="url(#mg)" marker-mid="url(#mg)" marker-end="url(#mg)"/>
<polyline points="101.7,973.0 104.1,973.0 106.6,973.0 109.0,972.9 111.5,972.7 113.9,972.3 116.4,971.5 118.9,970.4 121.3,968.8 123.8,966.7 126.2,964.1 128.7,960.9 131.1,957.1 133.6,952.7 136.1,947.8 138.5,942.4 141.0,936.4 143.4,930.0 145.9,923.2 148.3,916.0 150.8,908.5 153.3,900.8 155.7,892.8 158.2,884.6 160.6,876.4 163.1,868.0 165.5,859.7 168.0,851.3 170.5,843.0 172.9,834.8 175.4,826.7 177.8,818.8 180.3,811.0 182.7,803.5 185.2,796.2 187.7,789.1 190.1,782.3 192.6,775.8 195.0,769.5 197.5,763.6 200.0,758.0 202.4,752.6 204.9,747.6 207.3,742.9 209.8,738.6 212.2,734.5 214.7,730.8 217.2,727.4 219.6,724.3 222.1,721.5 224.5,719.0 227.0,716.7 229.4,714.8 231.9,713.2 234.4,711.8 236.8,710.7 239.3,709.8 241.7,709.2 244.2,708.8 246.6,708.7 249.1,708.8 251.6,709.1 254.0,709.7 256.5,710.5 258.9,711.6 261.4,712.9 263.8,714.4 266.3,716.2 268.8,718.1 271.2,720.2 273.7,722.5 276.1,725.0 278.6,727.7 281.0,730.5 283.5,733.5 286.0,736.6 288.4,739.8 290.9,743.2 293.3,746.6 295.8,750.2 298.3,753.9 300.7,757.6 303.2,761.4 305.6,765.3 308.1,769.2 310.5,773.2 313.0,777.3 315.5,781.3 317.9,785.4 320.4,789.6 322.8,793.7 325.3,797.8 327.7,802.0 330.2,806.1 332.7,810.2 335.1,814.3 337.6,818.4 340.0,822.5 342.5,826.5 344.9,830.5 347.4,834.4 349.9,838.3 352.3,842.2 354.8,846.0 357.2,849.8 359.7,853.5 362.1,857.2 364.6,860.7 367.1,864.3 369.5,867.7 372.0,871.1 374.4,874.5 376.9,877.7 379.3,880.9 381.8,884.1 384.3,887.1 386.7,890.1 389.2,893.0 391.6,895.9 394.1,898.6 396.6,901.3 399.0,904.0 401.5,906.5 403.9,909.0 406.4,911.4 408.8,913.8 411.3,916.1 413.8,918.3 416.2,920.4 418.7,922.5 421.1,924.5 423.6,926.5 426.0,928.4 428.5,930.2 431.0,932.0 433.4,933.7 435.9,935.3 438.3,936.9 440.8,938.5 443.2,939.9 445.7,941.4 448.2,942.8 450.6,944.1 453.1,945.4 455.5,946.6 458.0,947.8 460.4,948.9 462.9,950.0 465.4,951.0 467.8,952.1 470.3,953.0 472.7,954.0 475.2,954.8 477.6,955.7 480.1,956.5 482.6,957.3 485.0,958.1 487.5,958.8 489.9,959.5 492.4,960.1 494.9,960.8 497.3,961.4 499.8,961.9 502.2,962.5 504.7,963.0 507.1,963.5 509.6,964.0 512.1,964.4 514.5,964.9 517.0,965.3 519.4,965.7 521.9,966.1 524.3,966.4 526.8,966.8 529.3,967.1 531.7,967.4 534.2,967.7 536.6,968.0 539.1,968.3 541.5,968.5 544.0,968.8 546.5,969.0 548.9,969.2 551.4,969.4 553.8,969.6 556.3,969.8 558.7,970.0 561.2,970.1 563.7,970.3 566.1,970.5 568.6,970.6 571.0,970.7 573.5,970.9 575.9,971.0 578.4,971.1 580.9,971.2 583.3,971.3 585.8,971.4 588.2,971.5 590.7,971.6 593.2,971.7 595.6,971.8 598.1,971.8 600.5,971.9 603.0,972.0 605.4,972.0 607.9,972.1 610.4,972.2 612.8,972.2 615.3,972.3 617.7,972.3 620.2,972.3 622.6,972.4 625.1,972.4 627.6,972.5 630.0,972.5 632.5,972.5 634.9,972.6 637.4,972.6 639.8,972.6 642.3,972.6 644.8,972.7 647.2,972.7 649.7,972.7 652.1,972.7 654.6,972.8 657.0,972.8 659.5,972.8 662.0,972.8 664.4,972.8 666.9,972.8 669.3,972.8 671.8,972.9 674.2,972.9" fill="none" stroke="none" marker-start="url(#mo)" marker-mid="url(#mo)" marker-end="url(#mo)"/>
<use href="#sk" x="507.4" y="582.0"/>
<text class="lg" x="551.8" y="590.8" fill="#000">0 kGy</text>
<use href="#sr" x="507.4" y="616.1"/>
<text class="lg" x="551.8" y="624.9" fill="#e00000">10 kGy</text>
<use href="#spu" x="507.4" y="650.2"/>
<text class="lg" x="551.8" y="659.0" fill="#660066">30 kGy</text>
<use href="#sb" x="507.4" y="684.3"/>
<text class="lg" x="551.8" y="693.1" fill="#000099">50 kGy</text>
<use href="#sm" x="507.4" y="718.4"/>
<text class="lg" x="551.8" y="727.2" fill="#e040e0">70 kGy</text>
<use href="#sc" x="507.4" y="752.5"/>
<text class="lg" x="551.8" y="761.3" fill="#20e0e0">100 kGy</text>
<use href="#sdr" x="507.4" y="786.6"/>
<text class="lg" x="551.8" y="795.4" fill="#800000">150 kGy</text>
<use href="#sg" x="507.4" y="820.7"/>
<text class="lg" x="551.8" y="829.5" fill="#006600">200 kGy</text>
<use href="#so" x="507.4" y="854.8"/>
<text class="lg" x="551.8" y="863.6" fill="#707000">300 kGy</text>
<rect x="101.7" y="1037.2" width="572.2" height="443.2" fill="none" stroke="#000" stroke-width="3.6"/>
<path d="M101.7 1480.4h10.3M101.7 1467.8h7.0M101.7 1455.1h7.0M101.7 1442.4h7.0M101.7 1429.8h7.0M101.7 1417.1h10.3M101.7 1404.5h7.0M101.7 1391.8h7.0M101.7 1379.1h7.0M101.7 1366.5h7.0M101.7 1353.8h10.3M101.7 1341.1h7.0M101.7 1328.5h7.0M101.7 1315.8h7.0M101.7 1303.1h7.0M101.7 1290.5h10.3M101.7 1277.8h7.0M101.7 1265.2h7.0M101.7 1252.5h7.0M101.7 1239.8h7.0M101.7 1227.2h10.3M101.7 1214.5h7.0M101.7 1201.8h7.0M101.7 1189.2h7.0M101.7 1176.5h7.0M101.7 1163.8h10.3M101.7 1151.2h7.0M101.7 1138.5h7.0M101.7 1125.8h7.0M101.7 1113.2h7.0M101.7 1100.5h10.3M101.7 1087.9h7.0M101.7 1075.2h7.0M101.7 1062.5h7.0M101.7 1049.9h7.0M101.7 1037.2h10.3M101.7 1480.4v-10.3M134.4 1480.4v-7.5M167.1 1480.4v-7.5M199.8 1480.4v-7.5M232.5 1480.4v-7.5M265.2 1480.4v-10.3M298.0 1480.4v-7.5M330.7 1480.4v-7.5M363.4 1480.4v-7.5M396.1 1480.4v-7.5M428.9 1480.4v-10.3M461.6 1480.4v-7.5M494.3 1480.4v-7.5M527.0 1480.4v-7.5M559.7 1480.4v-7.5M592.4 1480.4v-10.3M625.2 1480.4v-7.5M657.9 1480.4v-7.5" stroke="#000" stroke-width="2.2" fill="none"/>
<text class="tl" x="88.3" y="1489.4" text-anchor="end">0</text>
<text class="tl" x="88.3" y="1426.1" text-anchor="end">2</text>
<text class="tl" x="88.3" y="1362.8" text-anchor="end">4</text>
<text class="tl" x="88.3" y="1299.5" text-anchor="end">6</text>
<text class="tl" x="88.3" y="1236.2" text-anchor="end">8</text>
<text class="tl" x="88.3" y="1172.8" text-anchor="end">10</text>
<text class="tl" x="88.3" y="1109.5" text-anchor="end">12</text>
<text class="tl" x="88.3" y="1046.2" text-anchor="end">14</text>
<text class="tl" x="101.7" y="1518.6" text-anchor="middle">0.0</text>
<text class="tl" x="265.2" y="1518.6" text-anchor="middle">0.1</text>
<text class="tl" x="428.9" y="1518.6" text-anchor="middle">0.2</text>
<text class="tl" x="592.5" y="1518.6" text-anchor="middle">0.3</text>
<text class="pl" x="121.8" y="1080.4">HW30</text>
<text class="yl" transform="translate(30.3 1256.8) rotate(-90)" text-anchor="middle">Normalized intensity</text>
<polyline points="101.7,1480.4 103.1,1480.4 104.5,1480.4 105.9,1480.4 107.3,1480.4 108.8,1480.4 110.2,1480.4 111.6,1480.4 113.0,1480.4 114.5,1480.4 115.9,1480.4 117.3,1480.4 118.7,1480.4 120.2,1480.4 121.6,1480.4 123.0,1480.4 124.4,1480.4 125.9,1480.4 127.3,1480.4 128.7,1480.4 130.1,1480.4 131.6,1480.4 133.0,1480.4 134.4,1480.4 135.8,1480.4 137.3,1480.4 138.7,1480.4 140.1,1480.4 141.5,1480.4 143.0,1480.4 144.4,1480.4 145.8,1480.4 147.2,1480.4 148.7,1480.4 150.1,1480.4 151.5,1480.4 152.9,1480.4 154.4,1480.4 155.8,1480.4 157.2,1480.4 158.6,1480.4 160.0,1480.4 161.5,1480.4 162.9,1480.4 164.3,1480.4 165.7,1480.4 167.2,1480.4 168.6,1480.4 170.0,1480.4 171.4,1480.3 172.9,1480.3 174.3,1480.3 175.7,1480.2 177.1,1480.1 178.6,1480.1 180.0,1480.0 181.4,1479.8 182.8,1479.7 184.3,1479.5 185.7,1479.3 187.1,1479.1 188.5,1478.8 190.0,1478.5 191.4,1478.1 192.8,1477.6 194.2,1477.1 195.7,1476.5 197.1,1475.8 198.5,1475.0 199.9,1474.1 201.4,1473.1 202.8,1472.0 204.2,1470.8 205.6,1469.4 207.1,1467.8 208.5,1466.1 209.9,1464.2 211.3,1462.1 212.8,1459.8 214.2,1457.4 215.6,1454.7 217.0,1451.7 218.4,1448.6 219.9,1445.2 221.3,1441.5 222.7,1437.6 224.1,1433.5 225.6,1429.0 227.0,1424.3 228.4,1419.3 229.8,1414.1 231.3,1408.6 232.7,1402.8 234.1,1396.7 235.5,1390.4 237.0,1383.8 238.4,1376.9 239.8,1369.8 241.2,1362.5 242.7,1354.9 244.1,1347.1 245.5,1339.1 246.9,1330.9 248.4,1322.6 249.8,1314.1 251.2,1305.4 252.6,1296.7 254.1,1287.8 255.5,1278.8 256.9,1269.8 258.3,1260.7 259.8,1251.7 261.2,1242.6 262.6,1233.5 264.0,1224.5 265.5,1215.6 266.9,1206.7 268.3,1198.0 269.7,1189.4 271.2,1180.9 272.6,1172.6 274.0,1164.5 275.4,1156.7 276.8,1149.0 278.3,1141.6 279.7,1134.5 281.1,1127.7 282.5,1121.2 284.0,1115.0 285.4,1109.1 286.8,1103.5 288.2,1098.3 289.7,1093.5 291.1,1089.0 292.5,1084.9 293.9,1081.1 295.4,1077.8 296.8,1074.8 298.2,1072.3 299.6,1070.1 301.1,1068.3 302.5,1066.9 303.9,1065.9 305.3,1065.3 306.8,1065.0 308.2,1065.2 309.6,1065.7 311.0,1066.5 312.5,1067.7 313.9,1069.3 315.3,1071.2 316.7,1073.4 318.2,1076.0 319.6,1078.8 321.0,1082.0 322.4,1085.4 323.9,1089.1 325.3,1093.1 326.7,1097.3 328.1,1101.7 329.6,1106.4 331.0,1111.2 332.4,1116.3 333.8,1121.5 335.2,1126.9 336.7,1132.5 338.1,1138.2 339.5,1144.0 340.9,1150.0 342.4,1156.0 343.8,1162.2 345.2,1168.4 346.6,1174.7 348.1,1181.0 349.5,1187.4 350.9,1193.8 352.3,1200.3 353.8,1206.7 355.2,1213.2 356.6,1219.6 358.0,1226.1 359.5,1232.5 360.9,1238.9 362.3,1245.2 363.7,1251.5 365.2,1257.7 366.6,1263.9 368.0,1270.1 369.4,1276.1 370.9,1282.1 372.3,1288.0 373.7,1293.8 375.1,1299.5 376.6,1305.1 378.0,1310.7 379.4,1316.1 380.8,1321.4 382.3,1326.7 383.7,1331.8 385.1,1336.8 386.5,1341.7 387.9,1346.5 389.4,1351.2 390.8,1355.8 392.2,1360.2 393.6,1364.6 395.1,1368.8 396.5,1372.9 397.9,1377.0 399.3,1380.9 400.8,1384.7 402.2,1388.3 403.6,1391.9 405.0,1395.4 406.5,1398.8 407.9,1402.0 409.3,1405.2 410.7,1408.2 412.2,1411.2 413.6,1414.0 415.0,1416.8 416.4,1419.5 417.9,1422.0 419.3,1424.5 420.7,1426.9 422.1,1429.2 423.6,1431.5 425.0,1433.6 426.4,1435.7 427.8,1437.7 429.3,1439.6 430.7,1441.4 432.1,1443.2 433.5,1444.9 435.0,1446.5 436.4,1448.1 437.8,1449.6 439.2,1451.0 440.7,1452.4 442.1,1453.7 443.5,1455.0 444.9,1456.2 446.3,1457.4 447.8,1458.5 449.2,1459.6 450.6,1460.6 452.0,1461.6 453.5,1462.5 454.9,1463.4 456.3,1464.2 457.7,1465.0 459.2,1465.8 460.6,1466.6 462.0,1467.3 463.4,1467.9 464.9,1468.6 466.3,1469.2 467.7,1469.8 469.1,1470.3 470.6,1470.8 472.0,1471.3 473.4,1471.8 474.8,1472.3 476.3,1472.7 477.7,1473.1 479.1,1473.5 480.5,1473.9 482.0,1474.2 483.4,1474.6 484.8,1474.9 486.2,1475.2 487.7,1475.5 489.1,1475.7 490.5,1476.0 491.9,1476.3 493.4,1476.5 494.8,1476.7 496.2,1476.9 497.6,1477.1 499.1,1477.3 500.5,1477.5 501.9,1477.6 503.3,1477.8 504.7,1477.9 506.2,1478.1 507.6,1478.2 509.0,1478.4 510.4,1478.5 511.9,1478.6 513.3,1478.7 514.7,1478.8 516.1,1478.9 517.6,1479.0 519.0,1479.1 520.4,1479.1 521.8,1479.2 523.3,1479.3 524.7,1479.4 526.1,1479.4 527.5,1479.5 529.0,1479.5 530.4,1479.6 531.8,1479.6 533.2,1479.7 534.7,1479.7 536.1,1479.8 537.5,1479.8 538.9,1479.9 540.4,1479.9 541.8,1479.9 543.2,1480.0 544.6,1480.0 546.1,1480.0 547.5,1480.0 548.9,1480.1 550.3,1480.1 551.8,1480.1 553.2,1480.1 554.6,1480.2 556.0,1480.2 557.5,1480.2 558.9,1480.2 560.3,1480.2 561.7,1480.2 563.1,1480.2 564.6,1480.3 566.0,1480.3 567.4,1480.3 568.8,1480.3 570.3,1480.3 571.7,1480.3 573.1,1480.3 574.5,1480.3 576.0,1480.3 577.4,1480.3 578.8,1480.3 580.2,1480.4 581.7,1480.4 583.1,1480.4 584.5,1480.4 585.9,1480.4 587.4,1480.4 588.8,1480.4 590.2,1480.4 591.6,1480.4 593.1,1480.4 594.5,1480.4 595.9,1480.4 597.3,1480.4 598.8,1480.4 600.2,1480.4 601.6,1480.4 603.0,1480.4 604.5,1480.4 605.9,1480.4 607.3,1480.4 608.7,1480.4 610.2,1480.4 611.6,1480.4 613.0,1480.4 614.4,1480.4 615.9,1480.4 617.3,1480.4 618.7,1480.4 620.1,1480.4 621.5,1480.4 623.0,1480.4 624.4,1480.4 625.8,1480.4 627.2,1480.4 628.7,1480.4 630.1,1480.4 631.5,1480.4 632.9,1480.4 634.4,1480.4 635.8,1480.4 637.2,1480.4 638.6,1480.4 640.1,1480.4 641.5,1480.4 642.9,1480.4 644.3,1480.4 645.8,1480.4 647.2,1480.4 648.6,1480.4 650.0,1480.4 651.5,1480.4 652.9,1480.4 654.3,1480.4 655.7,1480.4 657.2,1480.4 658.6,1480.4 660.0,1480.4 661.4,1480.4 662.9,1480.4 664.3,1480.4 665.7,1480.4 667.1,1480.4 668.6,1480.4 670.0,1480.4 671.4,1480.4 672.8,1480.4 674.2,1480.4" fill="none" stroke="none" marker-start="url(#mk)" marker-mid="url(#mk)" marker-end="url(#mk)"/>
<polyline points="101.7,1480.4 103.2,1480.4 104.7,1480.4 106.2,1480.4 107.7,1480.4 109.2,1480.4 110.7,1480.4 112.3,1480.4 113.8,1480.4 115.3,1480.4 116.8,1480.4 118.3,1480.4 119.8,1480.4 121.3,1480.4 122.9,1480.4 124.4,1480.4 125.9,1480.4 127.4,1480.4 128.9,1480.4 130.4,1480.4 131.9,1480.4 133.5,1480.4 135.0,1480.4 136.5,1480.4 138.0,1480.4 139.5,1480.4 141.0,1480.4 142.6,1480.4 144.1,1480.4 145.6,1480.4 147.1,1480.4 148.6,1480.4 150.1,1480.4 151.6,1480.4 153.2,1480.4 154.7,1480.4 156.2,1480.4 157.7,1480.4 159.2,1480.4 160.7,1480.4 162.2,1480.4 163.8,1480.3 165.3,1480.3 166.8,1480.2 168.3,1480.2 169.8,1480.0 171.3,1479.9 172.8,1479.7 174.4,1479.5 175.9,1479.2 177.4,1478.8 178.9,1478.4 180.4,1477.9 181.9,1477.2 183.4,1476.5 185.0,1475.6 186.5,1474.5 188.0,1473.3 189.5,1471.8 191.0,1470.2 192.5,1468.3 194.1,1466.2 195.6,1463.9 197.1,1461.2 198.6,1458.3 200.1,1455.1 201.6,1451.5 203.1,1447.7 204.7,1443.5 206.2,1438.9 207.7,1434.0 209.2,1428.8 210.7,1423.2 212.2,1417.3 213.7,1411.0 215.3,1404.4 216.8,1397.4 218.3,1390.2 219.8,1382.6 221.3,1374.7 222.8,1366.6 224.3,1358.2 225.9,1349.6 227.4,1340.8 228.9,1331.7 230.4,1322.5 231.9,1313.2 233.4,1303.8 235.0,1294.2 236.5,1284.6 238.0,1275.0 239.5,1265.4 241.0,1255.8 242.5,1246.2 244.0,1236.7 245.6,1227.3 247.1,1218.1 248.6,1209.0 250.1,1200.0 251.6,1191.3 253.1,1182.7 254.6,1174.4 256.2,1166.4 257.7,1158.6 259.2,1151.2 260.7,1144.0 262.2,1137.1 263.7,1130.6 265.2,1124.4 266.8,1118.6 268.3,1113.1 269.8,1108.0 271.3,1103.3 272.8,1098.9 274.3,1094.9 275.9,1091.3 277.4,1088.0 278.9,1085.2 280.4,1082.7 281.9,1080.5 283.4,1078.8 284.9,1077.4 286.5,1076.4 288.0,1075.7 289.5,1075.3 291.0,1075.3 292.5,1075.7 294.0,1076.5 295.5,1077.7 297.1,1079.2 298.6,1081.1 300.1,1083.3 301.6,1085.9 303.1,1088.8 304.6,1091.9 306.1,1095.4 307.7,1099.1 309.2,1103.1 310.7,1107.4 312.2,1111.9 313.7,1116.6 315.2,1121.4 316.8,1126.5 318.3,1131.7 319.8,1137.1 321.3,1142.7 322.8,1148.3 324.3,1154.1 325.8,1160.0 327.4,1166.0 328.9,1172.0 330.4,1178.1 331.9,1184.3 333.4,1190.5 334.9,1196.7 336.4,1202.9 338.0,1209.2 339.5,1215.4 341.0,1221.6 342.5,1227.9 344.0,1234.1 345.5,1240.2 347.0,1246.3 348.6,1252.4 350.1,1258.4 351.6,1264.4 353.1,1270.2 354.6,1276.0 356.1,1281.8 357.7,1287.4 359.2,1293.0 360.7,1298.5 362.2,1303.9 363.7,1309.2 365.2,1314.4 366.7,1319.5 368.3,1324.5 369.8,1329.4 371.3,1334.3 372.8,1339.0 374.3,1343.6 375.8,1348.1 377.3,1352.4 378.9,1356.7 380.4,1360.9 381.9,1365.0 383.4,1369.0 384.9,1372.8 386.4,1376.6 387.9,1380.3 389.5,1383.8 391.0,1387.3 392.5,1390.6 394.0,1393.9 395.5,1397.1 397.0,1400.1 398.6,1403.1 400.1,1406.0 401.6,1408.8 403.1,1411.5 404.6,1414.2 406.1,1416.7 407.6,1419.2 409.2,1421.5 410.7,1423.8 412.2,1426.0 413.7,1428.2 415.2,1430.3 416.7,1432.3 418.2,1434.2 419.8,1436.1 421.3,1437.8 422.8,1439.6 424.3,1441.2 425.8,1442.9 427.3,1444.4 428.9,1445.9 430.4,1447.3 431.9,1448.7 433.4,1450.0 434.9,1451.3 436.4,1452.5 437.9,1453.7 439.5,1454.9 441.0,1456.0 442.5,1457.0 444.0,1458.0 445.5,1459.0 447.0,1459.9 448.5,1460.8 450.1,1461.7 451.6,1462.5 453.1,1463.3 454.6,1464.0 456.1,1464.8 457.6,1465.4 459.1,1466.1 460.7,1466.7 462.2,1467.4 463.7,1467.9 465.2,1468.5 466.7,1469.0 468.2,1469.6 469.8,1470.1 471.3,1470.5 472.8,1471.0 474.3,1471.4 475.8,1471.8 477.3,1472.2 478.8,1472.6 480.4,1473.0 481.9,1473.3 483.4,1473.6 484.9,1473.9 486.4,1474.2 487.9,1474.5 489.4,1474.8 491.0,1475.1 492.5,1475.3 494.0,1475.6 495.5,1475.8 497.0,1476.0 498.5,1476.2 500.0,1476.4 501.6,1476.6 503.1,1476.8 504.6,1477.0 506.1,1477.1 507.6,1477.3 509.1,1477.4 510.6,1477.6 512.2,1477.7 513.7,1477.8 515.2,1478.0 516.7,1478.1 518.2,1478.2 519.7,1478.3 521.3,1478.4 522.8,1478.5 524.3,1478.6 525.8,1478.7 527.3,1478.8 528.8,1478.9 530.3,1478.9 531.9,1479.0 533.4,1479.1 534.9,1479.1 536.4,1479.2 537.9,1479.3" fill="none" stroke="none" marker-start="url(#mr)" marker-mid="url(#mr)" marker-end="url(#mr)"/>
<polyline points="101.7,1480.4 103.6,1480.4 105.5,1480.4 107.5,1480.4 109.4,1480.4 111.4,1480.4 113.3,1480.4 115.2,1480.4 117.2,1480.4 119.1,1480.4 121.1,1480.3 123.0,1480.2 124.9,1480.1 126.9,1479.9 128.8,1479.5 130.8,1479.1 132.7,1478.4 134.6,1477.6 136.6,1476.6 138.5,1475.3 140.5,1473.7 142.4,1471.9 144.4,1469.7 146.3,1467.2 148.2,1464.3 150.2,1461.1 152.1,1457.6 154.1,1453.6 156.0,1449.4 157.9,1444.8 159.9,1439.8 161.8,1434.5 163.8,1428.9 165.7,1423.1 167.6,1416.9 169.6,1410.6 171.5,1404.0 173.5,1397.2 175.4,1390.2 177.3,1383.1 179.3,1375.8 181.2,1368.5 183.2,1361.1 185.1,1353.7 187.1,1346.3 189.0,1338.8 190.9,1331.4 192.9,1324.0 194.8,1316.8 196.8,1309.6 198.7,1302.5 200.6,1295.5 202.6,1288.7 204.5,1282.1 206.5,1275.6 208.4,1269.3 210.3,1263.2 212.3,1257.4 214.2,1251.7 216.2,1246.2 218.1,1241.0 220.1,1236.0 222.0,1231.3 223.9,1226.8 225.9,1222.5 227.8,1218.5 229.8,1214.7 231.7,1211.2 233.6,1207.9 235.6,1204.9 237.5,1202.1 239.5,1199.5 241.4,1197.2 243.3,1195.1 245.3,1193.3 247.2,1191.6 249.2,1190.2 251.1,1189.0 253.0,1188.0 255.0,1187.3 256.9,1186.7 258.9,1186.3 260.8,1186.1 262.8,1186.1 264.7,1186.5 266.6,1187.3 268.6,1188.4 270.5,1189.9 272.5,1191.8 274.4,1194.0 276.3,1196.4 278.3,1199.2 280.2,1202.2 282.2,1205.4 284.1,1208.8 286.0,1212.4 288.0,1216.2 289.9,1220.1 291.9,1224.2 293.8,1228.4 295.8,1232.7 297.7,1237.0 299.6,1241.5 301.6,1246.0 303.5,1250.6 305.5,1255.1 307.4,1259.8 309.3,1264.4 311.3,1269.0 313.2,1273.6 315.2,1278.3 317.1,1282.9 319.0,1287.4 321.0,1292.0 322.9,1296.4 324.9,1300.9 326.8,1305.3 328.7,1309.6 330.7,1313.9 332.6,1318.2 334.6,1322.3 336.5,1326.4 338.5,1330.4 340.4,1334.4 342.3,1338.3 344.3,1342.1 346.2,1345.8 348.2,1349.5 350.1,1353.1 352.0,1356.6 354.0,1360.0 355.9,1363.4 357.9,1366.7 359.8,1369.9 361.7,1373.0 363.7,1376.0 365.6,1379.0 367.6,1381.9 369.5,1384.8 371.5,1387.5 373.4,1390.2 375.3,1392.8 377.3,1395.4 379.2,1397.9 381.2,1400.3 383.1,1402.6 385.0,1404.9 387.0,1407.1 388.9,1409.3 390.9,1411.4 392.8,1413.4 394.7,1415.4 396.7,1417.3 398.6,1419.2 400.6,1421.0 402.5,1422.8 404.4,1424.5 406.4,1426.2 408.3,1427.8 410.3,1429.4 412.2,1430.9 414.2,1432.4 416.1,1433.8 418.0,1435.2 420.0,1436.5 421.9,1437.9 423.9,1439.1 425.8,1440.4 427.7,1441.6 429.7,1442.7 431.6,1443.8 433.6,1444.9 435.5,1446.0 437.4,1447.0 439.4,1448.0 441.3,1449.0 443.3,1449.9 445.2,1450.8 447.2,1451.7 449.1,1452.5 451.0,1453.4 453.0,1454.2 454.9,1454.9 456.9,1455.7 458.8,1456.4 460.7,1457.1 462.7,1457.8 464.6,1458.5 466.6,1459.1 468.5,1459.7 470.4,1460.3 472.4,1460.9 474.3,1461.5 476.3,1462.0 478.2,1462.6 480.1,1463.1 482.1,1463.6 484.0,1464.1 486.0,1464.6 487.9,1465.0 489.9,1465.5 491.8,1465.9 493.7,1466.3 495.7,1466.7 497.6,1467.1 499.6,1467.5 501.5,1467.9 503.4,1468.2 505.4,1468.6 507.3,1468.9 509.3,1469.2 511.2,1469.5 513.1,1469.8 515.1,1470.1 517.0,1470.4 519.0,1470.7 520.9,1471.0 522.9,1471.2 524.8,1471.5 526.7,1471.8 528.7,1472.0 530.6,1472.2 532.6,1472.5 534.5,1472.7 536.4,1472.9 538.4,1473.1 540.3,1473.3 542.3,1473.5 544.2,1473.7 546.1,1473.9 548.1,1474.0 550.0,1474.2 552.0,1474.4 553.9,1474.5 555.8,1474.7 557.8,1474.9 559.7,1475.0 561.7,1475.2 563.6,1475.3 565.6,1475.4 567.5,1475.6 569.4,1475.7 571.4,1475.8 573.3,1475.9 575.3,1476.1 577.2,1476.2 579.1,1476.3 581.1,1476.4 583.0,1476.5 585.0,1476.6 586.9,1476.7 588.8,1476.8 590.8,1476.9 592.7,1477.0 594.7,1477.1 596.6,1477.2 598.6,1477.2 600.5,1477.3 602.4,1477.4 604.4,1477.5 606.3,1477.6 608.3,1477.6 610.2,1477.7 612.1,1477.8 614.1,1477.8 616.0,1477.9 618.0,1478.0 619.9,1478.0 621.8,1478.1 623.8,1478.2 625.7,1478.2 627.7,1478.3 629.6,1478.3 631.5,1478.4 633.5,1478.4 635.4,1478.5 637.4,1478.5 639.3,1478.6 641.3,1478.6 643.2,1478.7 645.1,1478.7 647.1,1478.7 649.0,1478.8 651.0,1478.8 652.9,1478.9 654.8,1478.9 656.8,1478.9 658.7,1479.0 660.7,1479.0 662.6,1479.0 664.5,1479.1 666.5,1479.1 668.4,1479.1 670.4,1479.2 672.3,1479.2 674.2,1479.2" fill="none" stroke="none" marker-start="url(#mpu)" marker-mid="url(#mpu)" marker-end="url(#mpu)"/>
<polyline points="101.7,1480.4 103.6,1480.4 105.6,1480.4 107.6,1480.4 109.5,1480.4 111.5,1480.4 113.5,1480.4 115.4,1480.4 117.4,1480.4 119.4,1480.4 121.3,1480.4 123.3,1480.3 125.3,1480.3 127.2,1480.2 129.2,1480.0 131.2,1479.8 133.1,1479.5 135.1,1479.1 137.1,1478.5 139.0,1477.9 141.0,1477.0 143.0,1476.0 144.9,1474.8 146.9,1473.4 148.9,1471.7 150.8,1469.8 152.8,1467.6 154.8,1465.1 156.7,1462.3 158.7,1459.2 160.7,1455.8 162.6,1452.1 164.6,1448.1 166.6,1443.8 168.6,1439.1 170.5,1434.2 172.5,1429.0 174.5,1423.6 176.4,1417.9 178.4,1411.9 180.4,1405.7 182.3,1399.4 184.3,1392.8 186.3,1386.1 188.2,1379.2 190.2,1372.3 192.2,1365.2 194.1,1358.1 196.1,1350.9 198.1,1343.7 200.0,1336.5 202.0,1329.4 204.0,1322.2 205.9,1315.2 207.9,1308.2 209.9,1301.3 211.8,1294.6 213.8,1287.9 215.8,1281.5 217.7,1275.2 219.7,1269.1 221.7,1263.2 223.6,1257.5 225.6,1252.0 227.6,1246.8 229.6,1241.8 231.5,1237.0 233.5,1232.5 235.5,1228.2 237.4,1224.2 239.4,1220.5 241.4,1217.0 243.3,1213.8 245.3,1210.9 247.3,1208.2 249.2,1205.8 251.2,1203.6 253.2,1201.7 255.1,1200.1 257.1,1198.7 259.1,1197.6 261.0,1196.7 263.0,1196.1 265.0,1195.7 266.9,1195.5 268.9,1195.6 270.9,1195.9 272.8,1196.6 274.8,1197.5 276.8,1198.7 278.7,1200.1 280.7,1201.7 282.7,1203.6 284.6,1205.7 286.6,1208.0 288.6,1210.4 290.5,1213.0 292.5,1215.8 294.5,1218.8 296.5,1221.8 298.4,1225.0 300.4,1228.3 302.4,1231.8 304.3,1235.3 306.3,1238.8 308.3,1242.5 310.2,1246.2 312.2,1250.0 314.2,1253.8 316.1,1257.7 318.1,1261.6 320.1,1265.5 322.0,1269.4 324.0,1273.4 326.0,1277.3 327.9,1281.2 329.9,1285.2 331.9,1289.1 333.8,1293.0 335.8,1296.9 337.8,1300.8 339.7,1304.6 341.7,1308.5 343.7,1312.2 345.6,1316.0 347.6,1319.7 349.6,1323.3 351.5,1326.9 353.5,1330.5 355.5,1334.0 357.5,1337.5 359.4,1340.9 361.4,1344.3 363.4,1347.6 365.3,1350.9 367.3,1354.1 369.3,1357.2 371.2,1360.3 373.2,1363.3 375.2,1366.3 377.1,1369.2 379.1,1372.1 381.1,1374.9 383.0,1377.6 385.0,1380.3 387.0,1382.9 388.9,1385.5 390.9,1388.0 392.9,1390.5 394.8,1392.9 396.8,1395.3 398.8,1397.6 400.7,1399.8 402.7,1402.0 404.7,1404.1 406.6,1406.2 408.6,1408.3 410.6,1410.3 412.5,1412.2 414.5,1414.1 416.5,1415.9 418.4,1417.7 420.4,1419.5 422.4,1421.2 424.4,1422.9 426.3,1424.5 428.3,1426.1 430.3,1427.6 432.2,1429.1 434.2,1430.6 436.2,1432.0 438.1,1433.4 440.1,1434.7 442.1,1436.0 444.0,1437.3 446.0,1438.5 448.0,1439.7 449.9,1440.9 451.9,1442.0 453.9,1443.1 455.8,1444.2 457.8,1445.3 459.8,1446.3 461.7,1447.3 463.7,1448.2 465.7,1449.2 467.6,1450.1 469.6,1451.0 471.6,1451.8 473.5,1452.7 475.5,1453.5 477.5,1454.2 479.4,1455.0 481.4,1455.8 483.4,1456.5 485.4,1457.2 487.3,1457.9 489.3,1458.5 491.3,1459.2 493.2,1459.8 495.2,1460.4 497.2,1461.0 499.1,1461.5 501.1,1462.1 503.1,1462.6 505.0,1463.1 507.0,1463.7 509.0,1464.1 510.9,1464.6 512.9,1465.1 514.9,1465.5 516.8,1466.0 518.8,1466.4 520.8,1466.8 522.7,1467.2 524.7,1467.6 526.7,1468.0 528.6,1468.3 530.6,1468.7 532.6,1469.0 534.5,1469.4 536.5,1469.7 538.5,1470.0 540.4,1470.3 542.4,1470.6 544.4,1470.9 546.3,1471.2 548.3,1471.4 550.3,1471.7 552.3,1471.9 554.2,1472.2 556.2,1472.4 558.2,1472.7 560.1,1472.9 562.1,1473.1 564.1,1473.3 566.0,1473.5 568.0,1473.7 570.0,1473.9 571.9,1474.1 573.9,1474.3 575.9,1474.5 577.8,1474.6 579.8,1474.8 581.8,1475.0 583.7,1475.1 585.7,1475.3 587.7,1475.4 589.6,1475.6 591.6,1475.7 593.6,1475.9 595.5,1476.0 597.5,1476.1 599.5,1476.2 601.4,1476.4 603.4,1476.5 605.4,1476.6 607.3,1476.7 609.3,1476.8 611.3,1476.9 613.3,1477.0 615.2,1477.1 617.2,1477.2 619.2,1477.3 621.1,1477.4 623.1,1477.5 625.1,1477.5 627.0,1477.6 629.0,1477.7 631.0,1477.8 632.9,1477.9 634.9,1477.9 636.9,1478.0 638.8,1478.1 640.8,1478.1 642.8,1478.2 644.7,1478.3 646.7,1478.3 648.7,1478.4 650.6,1478.4 652.6,1478.5 654.6,1478.6 656.5,1478.6 658.5,1478.7 660.5,1478.7 662.4,1478.8 664.4,1478.8 666.4,1478.8 668.3,1478.9 670.3,1478.9 672.3,1479.0 674.2,1479.0" fill="none" stroke="none" marker-start="url(#mb)" marker-mid="url(#mb)" marker-end="url(#mb)"/>
<polyline points="101.7,1480.4 103.6,1480.4 105.5,1480.4 107.5,1480.4 109.4,1480.4 111.3,1480.4 113.3,1480.4 115.2,1480.4 117.1,1480.4 119.1,1480.4 121.0,1480.4 122.9,1480.3 124.9,1480.3 126.8,1480.2 128.7,1480.0 130.7,1479.8 132.6,1479.5 134.5,1479.1 136.5,1478.6 138.4,1477.9 140.3,1477.1 142.3,1476.1 144.2,1474.9 146.1,1473.4 148.1,1471.7 150.0,1469.8 151.9,1467.6 153.9,1465.1 155.8,1462.3 157.7,1459.2 159.7,1455.7 161.6,1452.0 163.6,1447.9 165.5,1443.6 167.4,1438.9 169.4,1433.9 171.3,1428.6 173.2,1423.0 175.2,1417.2 177.1,1411.1 179.0,1404.8 181.0,1398.2 182.9,1391.5 184.8,1384.5 186.8,1377.4 188.7,1370.2 190.6,1362.9 192.6,1355.5 194.5,1348.0 196.4,1340.5 198.4,1333.0 200.3,1325.4 202.2,1317.9 204.2,1310.5 206.1,1303.1 208.0,1295.8 210.0,1288.6 211.9,1281.6 213.8,1274.7 215.8,1267.9 217.7,1261.4 219.7,1255.0 221.6,1248.8 223.5,1242.9 225.5,1237.1 227.4,1231.6 229.3,1226.4 231.3,1221.4 233.2,1216.6 235.1,1212.1 237.1,1207.9 239.0,1203.9 240.9,1200.3 242.9,1196.9 244.8,1193.7 246.7,1190.9 248.7,1188.3 250.6,1186.0 252.5,1183.9 254.5,1182.1 256.4,1180.6 258.3,1179.3 260.3,1178.3 262.2,1177.5 264.1,1177.0 266.1,1176.7 268.0,1176.7 269.9,1176.9 271.9,1177.5 273.8,1178.4 275.8,1179.6 277.7,1181.0 279.6,1182.7 281.6,1184.7 283.5,1186.9 285.4,1189.4 287.4,1192.0 289.3,1194.9 291.2,1197.9 293.2,1201.1 295.1,1204.4 297.0,1207.9 299.0,1211.5 300.9,1215.3 302.8,1219.1 304.8,1223.0 306.7,1227.1 308.6,1231.2 310.6,1235.3 312.5,1239.5 314.4,1243.8 316.4,1248.1 318.3,1252.4 320.2,1256.7 322.2,1261.0 324.1,1265.4 326.0,1269.8 328.0,1274.1 329.9,1278.4 331.9,1282.7 333.8,1287.0 335.7,1291.3 337.7,1295.5 339.6,1299.7 341.5,1303.8 343.5,1308.0 345.4,1312.0 347.3,1316.0 349.3,1320.0 351.2,1323.9 353.1,1327.7 355.1,1331.5 357.0,1335.3 358.9,1338.9 360.9,1342.5 362.8,1346.1 364.7,1349.6 366.7,1353.0 368.6,1356.3 370.5,1359.6 372.5,1362.8 374.4,1366.0 376.3,1369.1 378.3,1372.1 380.2,1375.1 382.1,1378.0 384.1,1380.8 386.0,1383.6 387.9,1386.3 389.9,1388.9 391.8,1391.5 393.8,1394.0 395.7,1396.5 397.6,1398.9 399.6,1401.2 401.5,1403.5 403.4,1405.7 405.4,1407.9 407.3,1410.0 409.2,1412.0 411.2,1414.0 413.1,1416.0 415.0,1417.9 417.0,1419.7 418.9,1421.5 420.8,1423.3 422.8,1425.0 424.7,1426.6 426.6,1428.2 428.6,1429.8 430.5,1431.3 432.4,1432.8 434.4,1434.2 436.3,1435.6 438.2,1437.0 440.2,1438.3 442.1,1439.6 444.0,1440.8 446.0,1442.0 447.9,1443.2 449.9,1444.3 451.8,1445.4 453.7,1446.5 455.7,1447.5 457.6,1448.5 459.5,1449.5 461.5,1450.5 463.4,1451.4 465.3,1452.3 467.3,1453.1 469.2,1454.0 471.1,1454.8 473.1,1455.6 475.0,1456.4 476.9,1457.1 478.9,1457.8 480.8,1458.5 482.7,1459.2 484.7,1459.9 486.6,1460.5 488.5,1461.1 490.5,1461.7 492.4,1462.3 494.3,1462.8 496.3,1463.4 498.2,1463.9 500.1,1464.4 502.1,1464.9 504.0,1465.4 506.0,1465.9 507.9,1466.3 509.8,1466.8 511.8,1467.2 513.7,1467.6 515.6,1468.0 517.6,1468.4 519.5,1468.8 521.4,1469.1 523.4,1469.5 525.3,1469.8 527.2,1470.1 529.2,1470.5 531.1,1470.8 533.0,1471.1 535.0,1471.4 536.9,1471.6 538.8,1471.9 540.8,1472.2 542.7,1472.4 544.6,1472.7 546.6,1472.9 548.5,1473.1 550.4,1473.4 552.4,1473.6 554.3,1473.8 556.2,1474.0 558.2,1474.2 560.1,1474.4 562.1,1474.6 564.0,1474.8 565.9,1474.9 567.9,1475.1 569.8,1475.3 571.7,1475.4 573.7,1475.6 575.6,1475.7 577.5,1475.9 579.5,1476.0 581.4,1476.1 583.3,1476.3 585.3,1476.4 587.2,1476.5 589.1,1476.6 591.1,1476.8 593.0,1476.9 594.9,1477.0 596.9,1477.1 598.8,1477.2 600.7,1477.3 602.7,1477.4 604.6,1477.5 606.5,1477.6 608.5,1477.7 610.4,1477.7 612.3,1477.8 614.3,1477.9 616.2,1478.0 618.2,1478.0 620.1,1478.1 622.0,1478.2 624.0,1478.3 625.9,1478.3 627.8,1478.4 629.8,1478.4 631.7,1478.5 633.6,1478.6 635.6,1478.6 637.5,1478.7 639.4,1478.7 641.4,1478.8 643.3,1478.8 645.2,1478.9 647.2,1478.9 649.1,1479.0 651.0,1479.0 653.0,1479.1 654.9,1479.1 656.8,1479.1 658.8,1479.2 660.7,1479.2 662.6,1479.2 664.6,1479.3 666.5,1479.3 668.4,1479.3 670.4,1479.4 672.3,1479.4 674.2,1479.4" fill="none" stroke="none" marker-start="url(#mm)" marker-mid="url(#mm)" marker-end="url(#mm)"/>
<polyline points="101.7,1480.4 104.0,1480.4 106.4,1480.3 108.8,1479.9 111.2,1479.1 113.5,1478.0 115.9,1476.3 118.3,1474.1 120.7,1471.3 123.0,1468.0 125.4,1464.1 127.8,1459.6 130.2,1454.6 132.5,1449.1 134.9,1443.1 137.3,1436.7 139.7,1430.0 142.0,1422.9 144.4,1415.5 146.8,1407.9 149.2,1400.1 151.5,1392.3 153.9,1384.3 156.3,1376.2 158.7,1368.2 161.0,1360.2 163.4,1352.3 165.8,1344.5 168.2,1336.9 170.6,1329.4 172.9,1322.1 175.3,1315.0 177.7,1308.1 180.1,1301.5 182.4,1295.2 184.8,1289.1 187.2,1283.3 189.6,1277.8 191.9,1272.6 194.3,1267.8 196.7,1263.2 199.1,1258.9 201.4,1255.0 203.8,1251.3 206.2,1248.0 208.6,1245.0 210.9,1242.2 213.3,1239.8 215.7,1237.6 218.1,1235.8 220.4,1234.2 222.8,1232.9 225.2,1231.8 227.6,1231.0 230.0,1230.4 232.3,1230.1 234.7,1230.0 237.1,1230.1 239.5,1230.4 241.8,1231.0 244.2,1231.8 246.6,1232.7 249.0,1233.9 251.3,1235.2 253.7,1236.7 256.1,1238.3 258.5,1240.1 260.8,1242.0 263.2,1244.1 265.6,1246.3 268.0,1248.6 270.3,1251.0 272.7,1253.5 275.1,1256.1 277.5,1258.8 279.8,1261.6 282.2,1264.4 284.6,1267.3 287.0,1270.3 289.3,1273.3 291.7,1276.3 294.1,1279.4 296.5,1282.5 298.9,1285.7 301.2,1288.8 303.6,1292.0 306.0,1295.2 308.4,1298.4 310.7,1301.6 313.1,1304.8 315.5,1308.0 317.9,1311.2 320.2,1314.4 322.6,1317.6 325.0,1320.8 327.4,1323.9 329.7,1327.1 332.1,1330.2 334.5,1333.3 336.9,1336.3 339.2,1339.3 341.6,1342.3 344.0,1345.3 346.4,1348.2 348.7,1351.1 351.1,1354.0 353.5,1356.8 355.9,1359.6 358.3,1362.4 360.6,1365.1 363.0,1367.7 365.4,1370.4 367.8,1372.9 370.1,1375.5 372.5,1378.0 374.9,1380.4 377.3,1382.9 379.6,1385.2 382.0,1387.6 384.4,1389.8 386.8,1392.1 389.1,1394.3 391.5,1396.4 393.9,1398.6 396.3,1400.6 398.6,1402.7 401.0,1404.7 403.4,1406.6 405.8,1408.5 408.1,1410.4 410.5,1412.2 412.9,1414.0 415.3,1415.8 417.6,1417.5 420.0,1419.1 422.4,1420.8 424.8,1422.4 427.2,1423.9 429.5,1425.5 431.9,1426.9 434.3,1428.4 436.7,1429.8 439.0,1431.2 441.4,1432.6 443.8,1433.9 446.2,1435.2 448.5,1436.4 450.9,1437.6 453.3,1438.8 455.7,1440.0 458.0,1441.1 460.4,1442.2 462.8,1443.3 465.2,1444.4 467.5,1445.4 469.9,1446.4 472.3,1447.3 474.7,1448.3 477.0,1449.2 479.4,1450.1 481.8,1451.0 484.2,1451.8 486.6,1452.7 488.9,1453.5 491.3,1454.2 493.7,1455.0 496.1,1455.7 498.4,1456.5 500.8,1457.2 503.2,1457.8 505.6,1458.5 507.9,1459.1 510.3,1459.8 512.7,1460.4 515.1,1461.0 517.4,1461.6 519.8,1462.1 522.2,1462.7 524.6,1463.2 526.9,1463.7 529.3,1464.2 531.7,1464.7 534.1,1465.1 536.4,1465.6 538.8,1466.1 541.2,1466.5 543.6,1466.9 545.9,1467.3 548.3,1467.7 550.7,1468.1 553.1,1468.5 555.5,1468.8 557.8,1469.2 560.2,1469.5 562.6,1469.8 565.0,1470.2 567.3,1470.5 569.7,1470.8 572.1,1471.1 574.5,1471.4 576.8,1471.6 579.2,1471.9 581.6,1472.2 584.0,1472.4 586.3,1472.7 588.7,1472.9 591.1,1473.1 593.5,1473.4 595.8,1473.6 598.2,1473.8 600.6,1474.0 603.0,1474.2 605.3,1474.4 607.7,1474.6 610.1,1474.8 612.5,1474.9 614.9,1475.1 617.2,1475.3 619.6,1475.4 622.0,1475.6 624.4,1475.7 626.7,1475.9 629.1,1476.0 631.5,1476.2 633.9,1476.3 636.2,1476.4 638.6,1476.5 641.0,1476.7 643.4,1476.8 645.7,1476.9 648.1,1477.0 650.5,1477.1 652.9,1477.2 655.2,1477.3 657.6,1477.4 660.0,1477.5 662.4,1477.6 664.7,1477.7 667.1,1477.8 669.5,1477.9 671.9,1477.9 674.2,1478.0" fill="none" stroke="none" marker-start="url(#mc)" marker-mid="url(#mc)" marker-end="url(#mc)"/>
<polyline points="101.7,1480.4 103.7,1480.4 105.7,1480.4 107.8,1480.4 109.8,1480.4 111.9,1480.4 113.9,1480.3 116.0,1480.2 118.0,1480.0 120.1,1479.6 122.1,1479.1 124.1,1478.4 126.2,1477.5 128.2,1476.3 130.3,1474.8 132.3,1473.0 134.4,1470.8 136.4,1468.2 138.5,1465.3 140.5,1461.9 142.6,1458.2 144.6,1454.0 146.6,1449.5 148.7,1444.6 150.7,1439.4 152.8,1433.7 154.8,1427.8 156.9,1421.5 158.9,1415.0 161.0,1408.2 163.0,1401.3 165.0,1394.1 167.1,1386.7 169.1,1379.2 171.2,1371.6 173.2,1363.9 175.3,1356.2 177.3,1348.5 179.4,1340.7 181.4,1333.0 183.5,1325.4 185.5,1317.8 187.5,1310.4 189.6,1303.1 191.6,1295.9 193.7,1288.9 195.7,1282.0 197.8,1275.4 199.8,1268.9 201.9,1262.7 203.9,1256.7 205.9,1250.9 208.0,1245.4 210.0,1240.2 212.1,1235.2 214.1,1230.4 216.2,1226.0 218.2,1221.7 220.3,1217.8 222.3,1214.1 224.3,1210.7 226.4,1207.6 228.4,1204.8 230.5,1202.1 232.5,1199.8 234.6,1197.7 236.6,1195.9 238.7,1194.3 240.7,1193.0 242.8,1191.8 244.8,1191.0 246.8,1190.3 248.9,1189.9 250.9,1189.7 253.0,1189.6 255.0,1190.0 257.1,1190.6 259.1,1191.6 261.2,1192.8 263.2,1194.3 265.2,1196.1 267.3,1198.2 269.3,1200.5 271.4,1203.0 273.4,1205.7 275.5,1208.6 277.5,1211.7 279.6,1214.9 281.6,1218.2 283.7,1221.7 285.7,1225.4 287.7,1229.1 289.8,1232.9 291.8,1236.8 293.9,1240.7 295.9,1244.8 298.0,1248.8 300.0,1252.9 302.1,1257.1 304.1,1261.3 306.1,1265.5 308.2,1269.6 310.2,1273.8 312.3,1278.0 314.3,1282.2 316.4,1286.4 318.4,1290.5 320.5,1294.6 322.5,1298.7 324.6,1302.8 326.6,1306.8 328.6,1310.8 330.7,1314.7 332.7,1318.6 334.8,1322.4 336.8,1326.2 338.9,1329.9 340.9,1333.6 343.0,1337.2 345.0,1340.7 347.0,1344.2 349.1,1347.7 351.1,1351.0 353.2,1354.3 355.2,1357.6 357.3,1360.8 359.3,1363.9 361.4,1366.9 363.4,1369.9 365.5,1372.9 367.5,1375.7 369.5,1378.5 371.6,1381.3 373.6,1384.0 375.7,1386.6 377.7,1389.1 379.8,1391.6 381.8,1394.1 383.9,1396.4 385.9,1398.8 388.0,1401.0 390.0,1403.2 392.0,1405.4 394.1,1407.5 396.1,1409.5 398.2,1411.5 400.2,1413.5 402.3,1415.4 404.3,1417.2 406.4,1419.0 408.4,1420.8 410.4,1422.5 412.5,1424.1 414.5,1425.7 416.6,1427.3 418.6,1428.8 420.7,1430.3 422.7,1431.8 424.8,1433.2 426.8,1434.5 428.9,1435.9 430.9,1437.1 432.9,1438.4 435.0,1439.6 437.0,1440.8 439.1,1442.0 441.1,1443.1 443.2,1444.2 445.2,1445.2 447.3,1446.2 449.3,1447.2 451.3,1448.2 453.4,1449.2 455.4,1450.1 457.5,1451.0 459.5,1451.8 461.6,1452.7 463.6,1453.5 465.7,1454.3 467.7,1455.0 469.8,1455.8 471.8,1456.5 473.8,1457.2 475.9,1457.9 477.9,1458.5 480.0,1459.2 482.0,1459.8 484.1,1460.4 486.1,1461.0 488.2,1461.5 490.2,1462.1 492.2,1462.6 494.3,1463.2 496.3,1463.7 498.4,1464.1 500.4,1464.6 502.5,1465.1 504.5,1465.5 506.6,1466.0 508.6,1466.4 510.6,1466.8 512.7,1467.2 514.7,1467.6 516.8,1468.0 518.8,1468.3 520.9,1468.7 522.9,1469.0 525.0,1469.3 527.0,1469.7 529.1,1470.0 531.1,1470.3 533.1,1470.6 535.2,1470.9 537.2,1471.1 539.3,1471.4 541.3,1471.7 543.4,1471.9 545.4,1472.2 547.5,1472.4 549.5,1472.6 551.6,1472.9 553.6,1473.1 555.6,1473.3 557.7,1473.5 559.7,1473.7 561.8,1473.9 563.8,1474.1 565.9,1474.2 567.9,1474.4 570.0,1474.6 572.0,1474.8 574.0,1474.9 576.1,1475.1 578.1,1475.2 580.2,1475.4 582.2,1475.5 584.3,1475.7 586.3,1475.8 588.4,1475.9 590.4,1476.1 592.4,1476.2 594.5,1476.3 596.5,1476.4 598.6,1476.5 600.6,1476.6 602.7,1476.7 604.7,1476.8 606.8,1476.9 608.8,1477.0 610.9,1477.1 612.9,1477.2 614.9,1477.3 617.0,1477.4 619.0,1477.5 621.1,1477.6 623.1,1477.7 625.2,1477.7 627.2,1477.8 629.3,1477.9 631.3,1477.9 633.4,1478.0 635.4,1478.1 637.4,1478.1 639.5,1478.2 641.5,1478.3 643.6,1478.3 645.6,1478.4 647.7,1478.4 649.7,1478.5 651.8,1478.6 653.8,1478.6 655.8,1478.7 657.9,1478.7 659.9,1478.7 662.0,1478.8 664.0,1478.8 666.1,1478.9 668.1,1478.9 670.2,1479.0 672.2,1479.0 674.2,1479.0" fill="none" stroke="none" marker-start="url(#mdr)" marker-mid="url(#mdr)" marker-end="url(#mdr)"/>
<polyline points="101.7,1480.2 103.6,1479.6 105.5,1478.8 107.5,1478.0 109.4,1476.9 111.4,1475.6 113.3,1474.0 115.2,1472.2 117.2,1470.2 119.1,1467.8 121.1,1465.2 123.0,1462.4 124.9,1459.2 126.9,1455.7 128.8,1451.9 130.8,1447.9 132.7,1443.5 134.6,1438.9 136.6,1434.0 138.5,1428.8 140.5,1423.4 142.4,1417.7 144.4,1411.8 146.3,1405.6 148.2,1399.3 150.2,1392.7 152.1,1386.0 154.1,1379.2 156.0,1372.2 157.9,1365.1 159.9,1358.0 161.8,1350.7 163.8,1343.5 165.7,1336.2 167.6,1328.9 169.6,1321.6 171.5,1314.4 173.5,1307.2 175.4,1300.1 177.3,1293.2 179.3,1286.3 181.2,1279.6 183.2,1273.1 185.1,1266.7 187.1,1260.5 189.0,1254.6 190.9,1248.8 192.9,1243.3 194.8,1238.1 196.8,1233.1 198.7,1228.4 200.6,1224.0 202.6,1219.8 204.5,1216.0 206.5,1212.4 208.4,1209.2 210.3,1206.2 212.3,1203.6 214.2,1201.3 216.2,1199.3 218.1,1197.6 220.1,1196.2 222.0,1195.1 223.9,1194.3 225.9,1193.9 227.8,1193.7 229.8,1193.7 231.7,1194.1 233.6,1194.6 235.6,1195.3 237.5,1196.3 239.5,1197.4 241.4,1198.7 243.3,1200.2 245.3,1201.9 247.2,1203.7 249.2,1205.7 251.1,1207.8 253.0,1210.0 255.0,1212.4 256.9,1214.9 258.9,1217.5 260.8,1220.2 262.8,1223.0 264.7,1225.9 266.6,1228.9 268.6,1231.9 270.5,1235.0 272.5,1238.2 274.4,1241.5 276.3,1244.7 278.3,1248.1 280.2,1251.4 282.2,1254.8 284.1,1258.3 286.0,1261.7 288.0,1265.2 289.9,1268.7 291.9,1272.2 293.8,1275.7 295.8,1279.2 297.7,1282.7 299.6,1286.1 301.6,1289.6 303.5,1293.1 305.5,1296.6 307.4,1300.0 309.3,1303.4 311.3,1306.8 313.2,1310.2 315.2,1313.6 317.1,1316.9 319.0,1320.2 321.0,1323.5 322.9,1326.7 324.9,1329.9 326.8,1333.0 328.7,1336.2 330.7,1339.3 332.6,1342.3 334.6,1345.3 336.5,1348.3 338.5,1351.2 340.4,1354.1 342.3,1356.9 344.3,1359.7 346.2,1362.4 348.2,1365.2 350.1,1367.8 352.0,1370.4 354.0,1373.0 355.9,1375.5 357.9,1378.0 359.8,1380.5 361.7,1382.8 363.7,1385.2 365.6,1387.5 367.6,1389.8 369.5,1392.0 371.5,1394.2 373.4,1396.3 375.3,1398.4 377.3,1400.4 379.2,1402.4 381.2,1404.4 383.1,1406.3 385.0,1408.2 387.0,1410.0 388.9,1411.8 390.9,1413.6 392.8,1415.3 394.7,1417.0 396.7,1418.7 398.6,1420.3 400.6,1421.8 402.5,1423.4 404.4,1424.9 406.4,1426.3 408.3,1427.8 410.3,1429.2 412.2,1430.5 414.2,1431.9 416.1,1433.2 418.0,1434.5 420.0,1435.7 421.9,1436.9 423.9,1438.1 425.8,1439.2 427.7,1440.4 429.7,1441.5 431.6,1442.5 433.6,1443.6 435.5,1444.6 437.4,1445.6 439.4,1446.5 441.3,1447.5 443.3,1448.4 445.2,1449.3 447.2,1450.1 449.1,1451.0 451.0,1451.8 453.0,1452.6 454.9,1453.4 456.9,1454.2 458.8,1454.9 460.7,1455.6 462.7,1456.3 464.6,1457.0 466.6,1457.7 468.5,1458.3 470.4,1458.9 472.4,1459.6 474.3,1460.2 476.3,1460.7 478.2,1461.3 480.1,1461.9 482.1,1462.4 484.0,1462.9 486.0,1463.4 487.9,1463.9 489.9,1464.4 491.8,1464.8 493.7,1465.3 495.7,1465.7 497.6,1466.2 499.6,1466.6 501.5,1467.0 503.4,1467.4 505.4,1467.8 507.3,1468.1 509.3,1468.5 511.2,1468.8 513.1,1469.2 515.1,1469.5 517.0,1469.8 519.0,1470.1 520.9,1470.4 522.9,1470.7 524.8,1471.0 526.7,1471.3 528.7,1471.6 530.6,1471.8 532.6,1472.1 534.5,1472.3 536.4,1472.6 538.4,1472.8 540.3,1473.0 542.3,1473.2 544.2,1473.5 546.1,1473.7 548.1,1473.9 550.0,1474.1 552.0,1474.3 553.9,1474.4 555.8,1474.6 557.8,1474.8 559.7,1475.0 561.7,1475.1 563.6,1475.3 565.6,1475.4 567.5,1475.6 569.4,1475.7 571.4,1475.9 573.3,1476.0 575.3,1476.1 577.2,1476.3 579.1,1476.4 581.1,1476.5 583.0,1476.6 585.0,1476.8 586.9,1476.9 588.8,1477.0 590.8,1477.1 592.7,1477.2 594.7,1477.3 596.6,1477.4 598.6,1477.5 600.5,1477.6 602.4,1477.6 604.4,1477.7 606.3,1477.8 608.3,1477.9 610.2,1478.0 612.1,1478.0 614.1,1478.1 616.0,1478.2 618.0,1478.2 619.9,1478.3 621.8,1478.4 623.8,1478.4 625.7,1478.5 627.7,1478.6 629.6,1478.6 631.5,1478.7 633.5,1478.7 635.4,1478.8 637.4,1478.8 639.3,1478.9 641.3,1478.9 643.2,1479.0 645.1,1479.0 647.1,1479.1 649.0,1479.1 651.0,1479.1 652.9,1479.2 654.8,1479.2 656.8,1479.3 658.7,1479.3 660.7,1479.3 662.6,1479.4 664.5,1479.4 666.5,1479.4 668.4,1479.5 670.4,1479.5 672.3,1479.5 674.2,1479.5" fill="none" stroke="none" marker-start="url(#mg)" marker-mid="url(#mg)" marker-end="url(#mg)"/>
<polyline points="101.7,1480.4 103.8,1479.5 106.0,1478.1 108.2,1476.3 110.4,1473.9 112.6,1471.0 114.8,1467.7 116.9,1463.8 119.1,1459.5 121.3,1454.7 123.5,1449.5 125.7,1443.9 127.9,1438.0 130.1,1431.7 132.2,1425.1 134.4,1418.3 136.6,1411.2 138.8,1404.0 141.0,1396.6 143.2,1389.0 145.4,1381.4 147.5,1373.7 149.7,1366.0 151.9,1358.3 154.1,1350.6 156.3,1343.0 158.5,1335.5 160.7,1328.1 162.8,1320.8 165.0,1313.7 167.2,1306.8 169.4,1300.0 171.6,1293.5 173.8,1287.1 176.0,1281.1 178.1,1275.2 180.3,1269.7 182.5,1264.3 184.7,1259.3 186.9,1254.5 189.1,1250.1 191.3,1245.9 193.4,1242.0 195.6,1238.4 197.8,1235.1 200.0,1232.1 202.2,1229.3 204.4,1226.9 206.6,1224.7 208.7,1222.9 210.9,1221.2 213.1,1219.9 215.3,1218.8 217.5,1218.0 219.7,1217.5 221.9,1217.1 224.0,1217.1 226.2,1217.2 228.4,1217.6 230.6,1218.2 232.8,1219.0 235.0,1220.1 237.2,1221.3 239.3,1222.7 241.5,1224.3 243.7,1226.0 245.9,1227.9 248.1,1229.9 250.3,1232.1 252.4,1234.4 254.6,1236.8 256.8,1239.3 259.0,1241.9 261.2,1244.7 263.4,1247.5 265.6,1250.3 267.7,1253.3 269.9,1256.3 272.1,1259.4 274.3,1262.5 276.5,1265.6 278.7,1268.9 280.9,1272.1 283.0,1275.4 285.2,1278.6 287.4,1281.9 289.6,1285.3 291.8,1288.6 294.0,1291.9 296.2,1295.3 298.3,1298.6 300.5,1301.9 302.7,1305.2 304.9,1308.5 307.1,1311.8 309.3,1315.1 311.5,1318.3 313.6,1321.5 315.8,1324.7 318.0,1327.9 320.2,1331.0 322.4,1334.2 324.6,1337.2 326.8,1340.3 328.9,1343.3 331.1,1346.3 333.3,1349.2 335.5,1352.1 337.7,1354.9 339.9,1357.7 342.1,1360.5 344.2,1363.2 346.4,1365.9 348.6,1368.6 350.8,1371.2 353.0,1373.7 355.2,1376.3 357.4,1378.7 359.5,1381.2 361.7,1383.5 363.9,1385.9 366.1,1388.2 368.3,1390.4 370.5,1392.6 372.7,1394.8 374.8,1396.9 377.0,1399.0 379.2,1401.1 381.4,1403.0 383.6,1405.0 385.8,1406.9 387.9,1408.8 390.1,1410.6 392.3,1412.4 394.5,1414.2 396.7,1415.9 398.9,1417.6 401.1,1419.2 403.2,1420.8 405.4,1422.4 407.6,1423.9 409.8,1425.4 412.0,1426.9 414.2,1428.3 416.4,1429.7 418.5,1431.1 420.7,1432.4 422.9,1433.7 425.1,1434.9 427.3,1436.2 429.5,1437.4 431.7,1438.5 433.8,1439.7 436.0,1440.8 438.2,1441.9 440.4,1443.0 442.6,1444.0 444.8,1445.0 447.0,1446.0 449.1,1446.9 451.3,1447.9 453.5,1448.8 455.7,1449.7 457.9,1450.5 460.1,1451.4 462.3,1452.2 464.4,1453.0 466.6,1453.7 468.8,1454.5 471.0,1455.2 473.2,1455.9 475.4,1456.6 477.6,1457.3 479.7,1458.0 481.9,1458.6 484.1,1459.2 486.3,1459.8 488.5,1460.4 490.7,1461.0 492.9,1461.6 495.0,1462.1 497.2,1462.6 499.4,1463.1 501.6,1463.6 503.8,1464.1 506.0,1464.6 508.2,1465.1 510.3,1465.5 512.5,1465.9 514.7,1466.4 516.9,1466.8 519.1,1467.2 521.3,1467.6 523.5,1467.9 525.6,1468.3 527.8,1468.6 530.0,1469.0 532.2,1469.3 534.4,1469.7 536.6,1470.0 538.7,1470.3 540.9,1470.6 543.1,1470.9 545.3,1471.1 547.5,1471.4 549.7,1471.7 551.9,1471.9 554.0,1472.2 556.2,1472.4 558.4,1472.7 560.6,1472.9 562.8,1473.1 565.0,1473.3 567.2,1473.6 569.3,1473.8 571.5,1474.0 573.7,1474.1 575.9,1474.3 578.1,1474.5 580.3,1474.7 582.5,1474.9 584.6,1475.0 586.8,1475.2 589.0,1475.3 591.2,1475.5 593.4,1475.6 595.6,1475.8 597.8,1475.9 599.9,1476.1 602.1,1476.2 604.3,1476.3 606.5,1476.4 608.7,1476.6 610.9,1476.7 613.1,1476.8 615.2,1476.9 617.4,1477.0 619.6,1477.1 621.8,1477.2 624.0,1477.3 626.2,1477.4 628.4,1477.5 630.5,1477.6 632.7,1477.7 634.9,1477.7 637.1,1477.8 639.3,1477.9 641.5,1478.0 643.7,1478.1 645.8,1478.1 648.0,1478.2 650.2,1478.3 652.4,1478.3 654.6,1478.4 656.8,1478.5 659.0,1478.5 661.1,1478.6 663.3,1478.6 665.5,1478.7 667.7,1478.7 669.9,1478.8 672.1,1478.8 674.2,1478.9" fill="none" stroke="none" marker-start="url(#mo)" marker-mid="url(#mo)" marker-end="url(#mo)"/>
<use href="#sk" x="507.4" y="1089.8"/>
<text class="lg" x="551.8" y="1098.6" fill="#000">0 kGy</text>
<use href="#sr" x="507.4" y="1123.9"/>
<text class="lg" x="551.8" y="1132.7" fill="#e00000">10 kGy</text>
<use href="#spu" x="507.4" y="1158.0"/>
<text class="lg" x="551.8" y="1166.8" fill="#660066">30 kGy</text>
<use href="#sb" x="507.4" y="1192.1"/>
<text class="lg" x="551.8" y="1200.9" fill="#000099">50 kGy</text>
<use href="#sm" x="507.4" y="1226.2"/>
<text class="lg" x="551.8" y="1235.0" fill="#e040e0">70 kGy</text>
<use href="#sc" x="507.4" y="1260.3"/>
<text class="lg" x="551.8" y="1269.1" fill="#20e0e0">100 kGy</text>
<use href="#sdr" x="507.4" y="1294.4"/>
<text class="lg" x="551.8" y="1303.2" fill="#800000">150 kGy</text>
<use href="#sg" x="507.4" y="1328.5"/>
<text class="lg" x="551.8" y="1337.3" fill="#006600">200 kGy</text>
<use href="#so" x="507.4" y="1362.6"/>
<text class="lg" x="551.8" y="1371.4" fill="#707000">300 kGy</text>
<text class="big" x="139.5" y="1559.4">Free volume hole size <tspan font-style="italic">V</tspan> (nm<tspan font-size="22" dy="-14">3</tspan><tspan dy="14">)</tspan></text>
</svg>
</body></html>
